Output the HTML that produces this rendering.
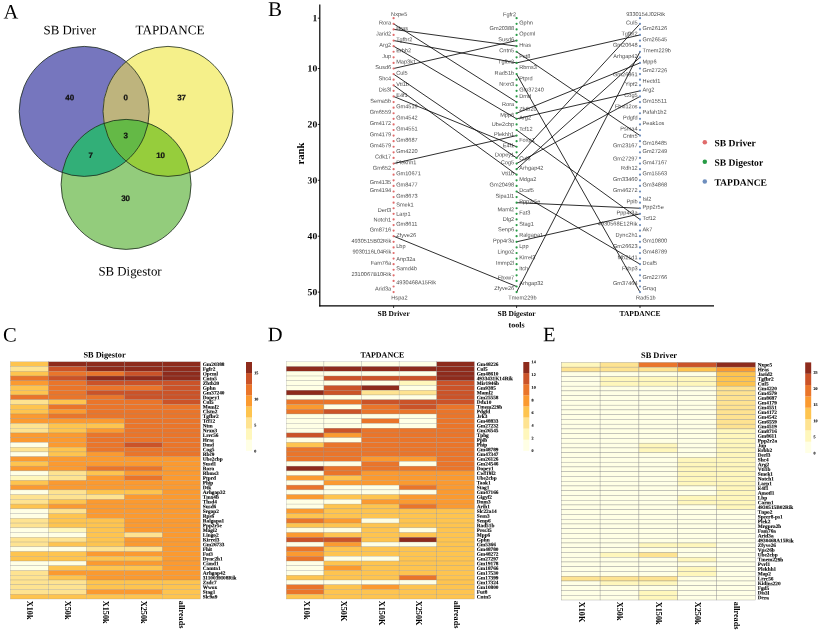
<!DOCTYPE html>
<html><head><meta charset="utf-8"><title>Figure</title>
<style>html,body{margin:0;padding:0;background:#fff}svg{display:block}</style></head>
<body>
<svg width="824" height="633" viewBox="0 0 824 633">
<rect width="824" height="633" fill="#fff"/>
<text transform="translate(3.50 18.50) rotate(0.05) scale(0.25)" font-size="82.0" text-anchor="start" font-weight="normal" font-family='"Liberation Serif", serif' fill="#000">A</text>
<text transform="translate(268.10 16.10) rotate(0.05) scale(0.25)" font-size="84.0" text-anchor="start" font-weight="normal" font-family='"Liberation Serif", serif' fill="#000">B</text>
<text transform="translate(2.90 341.40) rotate(0.05) scale(0.25)" font-size="82.0" text-anchor="start" font-weight="normal" font-family='"Liberation Serif", serif' fill="#000">C</text>
<text transform="translate(267.80 341.30) rotate(0.05) scale(0.25)" font-size="82.0" text-anchor="start" font-weight="normal" font-family='"Liberation Serif", serif' fill="#000">D</text>
<text transform="translate(543.00 341.20) rotate(0.05) scale(0.25)" font-size="82.0" text-anchor="start" font-weight="normal" font-family='"Liberation Serif", serif' fill="#000">E</text>
<defs><clipPath id="cb"><circle cx="84.2" cy="111.4" r="65"/></clipPath><clipPath id="cy"><circle cx="168" cy="111.4" r="65"/></clipPath><clipPath id="cg"><circle cx="126.1" cy="184.4" r="65"/></clipPath></defs>
<circle cx="84.2" cy="111.4" r="65" fill="#7676be"/>
<circle cx="168" cy="111.4" r="65" fill="#f5f08a"/>
<circle cx="126.1" cy="184.4" r="65" fill="#93cc7c"/>
<circle cx="168" cy="111.4" r="65" fill="#beb47d" clip-path="url(#cb)"/>
<circle cx="126.1" cy="184.4" r="65" fill="#32af78" clip-path="url(#cb)"/>
<circle cx="126.1" cy="184.4" r="65" fill="#96cd3c" clip-path="url(#cy)"/>
<g clip-path="url(#cb)"><circle cx="126.1" cy="184.4" r="65" fill="#64b946" clip-path="url(#cy)"/></g>
<g stroke="#1c2a1c" stroke-width="0.8" fill="none"><circle cx="84.2" cy="111.4" r="65"/><circle cx="168" cy="111.4" r="65"/><circle cx="126.1" cy="184.4" r="65"/></g>
<text transform="translate(69.80 34.30) rotate(0.05) scale(0.25)" font-size="51.6" text-anchor="middle" font-weight="normal" font-family='"Liberation Serif", serif' fill="#000">SB Driver</text>
<text transform="translate(170.00 34.20) rotate(0.05) scale(0.25)" font-size="52.4" text-anchor="middle" font-weight="normal" font-family='"Liberation Serif", serif' fill="#000">TAPDANCE</text>
<text transform="translate(130.00 275.60) rotate(0.05) scale(0.25)" font-size="51.4" text-anchor="middle" font-weight="normal" font-family='"Liberation Serif", serif' fill="#000">SB Digestor</text>
<text transform="translate(69.70 100.30) rotate(0.05) scale(0.25)" font-size="32.0" text-anchor="middle" font-weight="bold" font-family='"Liberation Sans", sans-serif' fill="#111" stroke="#111" stroke-width="0.88">40</text>
<text transform="translate(125.60 100.30) rotate(0.05) scale(0.25)" font-size="32.0" text-anchor="middle" font-weight="bold" font-family='"Liberation Sans", sans-serif' fill="#111" stroke="#111" stroke-width="0.88">0</text>
<text transform="translate(181.60 100.30) rotate(0.05) scale(0.25)" font-size="32.0" text-anchor="middle" font-weight="bold" font-family='"Liberation Sans", sans-serif' fill="#111" stroke="#111" stroke-width="0.88">37</text>
<text transform="translate(125.60 138.20) rotate(0.05) scale(0.25)" font-size="32.0" text-anchor="middle" font-weight="bold" font-family='"Liberation Sans", sans-serif' fill="#111" stroke="#111" stroke-width="0.88">3</text>
<text transform="translate(90.70 157.90) rotate(0.05) scale(0.25)" font-size="32.0" text-anchor="middle" font-weight="bold" font-family='"Liberation Sans", sans-serif' fill="#111" stroke="#111" stroke-width="0.88">7</text>
<text transform="translate(160.60 157.90) rotate(0.05) scale(0.25)" font-size="32.0" text-anchor="middle" font-weight="bold" font-family='"Liberation Sans", sans-serif' fill="#111" stroke="#111" stroke-width="0.88">10</text>
<text transform="translate(125.60 201.10) rotate(0.05) scale(0.25)" font-size="32.0" text-anchor="middle" font-weight="bold" font-family='"Liberation Sans", sans-serif' fill="#111" stroke="#111" stroke-width="0.88">30</text>
<line x1="319.8" y1="4.5" x2="319.8" y2="306.4" stroke="#000" stroke-width="1.2"/>
<line x1="319.2" y1="305.8" x2="714" y2="305.8" stroke="#000" stroke-width="1.2"/>
<line x1="317.8" y1="18.20" x2="319.8" y2="18.20" stroke="#000" stroke-width="0.8"/>
<text transform="translate(317.20 21.30) rotate(0.05) scale(0.25)" font-size="38.4" text-anchor="end" font-weight="bold" font-family='"Liberation Serif", serif' fill="#000">1</text>
<line x1="317.8" y1="68.51" x2="319.8" y2="68.51" stroke="#000" stroke-width="0.8"/>
<text transform="translate(317.20 71.61) rotate(0.05) scale(0.25)" font-size="38.4" text-anchor="end" font-weight="bold" font-family='"Liberation Serif", serif' fill="#000">10</text>
<line x1="317.8" y1="124.41" x2="319.8" y2="124.41" stroke="#000" stroke-width="0.8"/>
<text transform="translate(317.20 127.51) rotate(0.05) scale(0.25)" font-size="38.4" text-anchor="end" font-weight="bold" font-family='"Liberation Serif", serif' fill="#000">20</text>
<line x1="317.8" y1="180.31" x2="319.8" y2="180.31" stroke="#000" stroke-width="0.8"/>
<text transform="translate(317.20 183.41) rotate(0.05) scale(0.25)" font-size="38.4" text-anchor="end" font-weight="bold" font-family='"Liberation Serif", serif' fill="#000">30</text>
<line x1="317.8" y1="236.21" x2="319.8" y2="236.21" stroke="#000" stroke-width="0.8"/>
<text transform="translate(317.20 239.31) rotate(0.05) scale(0.25)" font-size="38.4" text-anchor="end" font-weight="bold" font-family='"Liberation Serif", serif' fill="#000">40</text>
<line x1="317.8" y1="292.11" x2="319.8" y2="292.11" stroke="#000" stroke-width="0.8"/>
<text transform="translate(317.20 295.21) rotate(0.05) scale(0.25)" font-size="38.4" text-anchor="end" font-weight="bold" font-family='"Liberation Serif", serif' fill="#000">50</text>
<line x1="393.6" y1="305.8" x2="393.6" y2="308" stroke="#000" stroke-width="0.8"/>
<line x1="516.6" y1="305.8" x2="516.6" y2="308" stroke="#000" stroke-width="0.8"/>
<line x1="640.0" y1="305.8" x2="640.0" y2="308" stroke="#000" stroke-width="0.8"/>
<text transform="translate(303.60 153.50) rotate(-90) scale(0.25)" font-size="42.4" text-anchor="middle" font-weight="bold" font-family='"Liberation Serif", serif' fill="#000">rank</text>
<text transform="translate(393.60 316.00) rotate(0.05) scale(0.25)" font-size="30.0" text-anchor="middle" font-weight="bold" font-family='"Liberation Serif", serif' fill="#000">SB Driver</text>
<text transform="translate(516.60 316.00) rotate(0.05) scale(0.25)" font-size="30.0" text-anchor="middle" font-weight="bold" font-family='"Liberation Serif", serif' fill="#000">SB Digestor</text>
<text transform="translate(640.00 316.00) rotate(0.05) scale(0.25)" font-size="30.0" text-anchor="middle" font-weight="bold" font-family='"Liberation Serif", serif' fill="#000">TAPDANCE</text>
<text transform="translate(516.60 327.50) rotate(0.05) scale(0.25)" font-size="32.0" text-anchor="middle" font-weight="bold" font-family='"Liberation Serif", serif' fill="#000">tools</text>
<text transform="translate(399.20 16.00) rotate(0.05) scale(0.25)" font-size="22.4" text-anchor="middle" font-weight="normal" font-family='"Liberation Sans", sans-serif' fill="#4d4d4d">Nxpe5</text>
<text transform="translate(391.20 24.39) rotate(0.05) scale(0.25)" font-size="22.4" text-anchor="end" font-weight="normal" font-family='"Liberation Sans", sans-serif' fill="#4d4d4d">Rora</text>
<text transform="translate(396.20 29.98) rotate(0.05) scale(0.25)" font-size="22.4" text-anchor="start" font-weight="normal" font-family='"Liberation Sans", sans-serif' fill="#4d4d4d">Hras</text>
<text transform="translate(391.20 35.57) rotate(0.05) scale(0.25)" font-size="22.4" text-anchor="end" font-weight="normal" font-family='"Liberation Sans", sans-serif' fill="#4d4d4d">Jarid2</text>
<text transform="translate(396.20 41.16) rotate(0.05) scale(0.25)" font-size="22.4" text-anchor="start" font-weight="normal" font-family='"Liberation Sans", sans-serif' fill="#4d4d4d">Tgfbr2</text>
<text transform="translate(391.20 46.75) rotate(0.05) scale(0.25)" font-size="22.4" text-anchor="end" font-weight="normal" font-family='"Liberation Sans", sans-serif' fill="#4d4d4d">Arg2</text>
<text transform="translate(396.20 52.34) rotate(0.05) scale(0.25)" font-size="22.4" text-anchor="start" font-weight="normal" font-family='"Liberation Sans", sans-serif' fill="#4d4d4d">Erbb2</text>
<text transform="translate(391.20 57.93) rotate(0.05) scale(0.25)" font-size="22.4" text-anchor="end" font-weight="normal" font-family='"Liberation Sans", sans-serif' fill="#4d4d4d">Jup</text>
<text transform="translate(396.20 63.52) rotate(0.05) scale(0.25)" font-size="22.4" text-anchor="start" font-weight="normal" font-family='"Liberation Sans", sans-serif' fill="#4d4d4d">Map3k1</text>
<text transform="translate(391.20 69.11) rotate(0.05) scale(0.25)" font-size="22.4" text-anchor="end" font-weight="normal" font-family='"Liberation Sans", sans-serif' fill="#4d4d4d">Susd6</text>
<text transform="translate(396.20 74.70) rotate(0.05) scale(0.25)" font-size="22.4" text-anchor="start" font-weight="normal" font-family='"Liberation Sans", sans-serif' fill="#4d4d4d">Cul5</text>
<text transform="translate(391.20 80.29) rotate(0.05) scale(0.25)" font-size="22.4" text-anchor="end" font-weight="normal" font-family='"Liberation Sans", sans-serif' fill="#4d4d4d">Shc4</text>
<text transform="translate(396.20 85.88) rotate(0.05) scale(0.25)" font-size="22.4" text-anchor="start" font-weight="normal" font-family='"Liberation Sans", sans-serif' fill="#4d4d4d">Vti1b</text>
<text transform="translate(391.20 91.47) rotate(0.05) scale(0.25)" font-size="22.4" text-anchor="end" font-weight="normal" font-family='"Liberation Sans", sans-serif' fill="#4d4d4d">Dis3l</text>
<text transform="translate(396.20 97.06) rotate(0.05) scale(0.25)" font-size="22.4" text-anchor="start" font-weight="normal" font-family='"Liberation Sans", sans-serif' fill="#4d4d4d">E4f1</text>
<text transform="translate(391.20 102.65) rotate(0.05) scale(0.25)" font-size="22.4" text-anchor="end" font-weight="normal" font-family='"Liberation Sans", sans-serif' fill="#4d4d4d">Sema5b</text>
<text transform="translate(396.20 108.24) rotate(0.05) scale(0.25)" font-size="22.4" text-anchor="start" font-weight="normal" font-family='"Liberation Sans", sans-serif' fill="#4d4d4d">Gm4519</text>
<text transform="translate(391.20 113.83) rotate(0.05) scale(0.25)" font-size="22.4" text-anchor="end" font-weight="normal" font-family='"Liberation Sans", sans-serif' fill="#4d4d4d">Gm6559</text>
<text transform="translate(396.20 119.42) rotate(0.05) scale(0.25)" font-size="22.4" text-anchor="start" font-weight="normal" font-family='"Liberation Sans", sans-serif' fill="#4d4d4d">Gm4542</text>
<text transform="translate(391.20 125.01) rotate(0.05) scale(0.25)" font-size="22.4" text-anchor="end" font-weight="normal" font-family='"Liberation Sans", sans-serif' fill="#4d4d4d">Gm4172</text>
<text transform="translate(396.20 130.60) rotate(0.05) scale(0.25)" font-size="22.4" text-anchor="start" font-weight="normal" font-family='"Liberation Sans", sans-serif' fill="#4d4d4d">Gm4551</text>
<text transform="translate(391.20 136.19) rotate(0.05) scale(0.25)" font-size="22.4" text-anchor="end" font-weight="normal" font-family='"Liberation Sans", sans-serif' fill="#4d4d4d">Gm4179</text>
<text transform="translate(396.20 141.78) rotate(0.05) scale(0.25)" font-size="22.4" text-anchor="start" font-weight="normal" font-family='"Liberation Sans", sans-serif' fill="#4d4d4d">Gm8687</text>
<text transform="translate(391.20 147.37) rotate(0.05) scale(0.25)" font-size="22.4" text-anchor="end" font-weight="normal" font-family='"Liberation Sans", sans-serif' fill="#4d4d4d">Gm4579</text>
<text transform="translate(396.20 152.96) rotate(0.05) scale(0.25)" font-size="22.4" text-anchor="start" font-weight="normal" font-family='"Liberation Sans", sans-serif' fill="#4d4d4d">Gm4220</text>
<text transform="translate(391.20 158.55) rotate(0.05) scale(0.25)" font-size="22.4" text-anchor="end" font-weight="normal" font-family='"Liberation Sans", sans-serif' fill="#4d4d4d">Cdk17</text>
<text transform="translate(396.20 164.14) rotate(0.05) scale(0.25)" font-size="22.4" text-anchor="start" font-weight="normal" font-family='"Liberation Sans", sans-serif' fill="#4d4d4d">Plekhh1</text>
<text transform="translate(391.20 169.73) rotate(0.05) scale(0.25)" font-size="22.4" text-anchor="end" font-weight="normal" font-family='"Liberation Sans", sans-serif' fill="#4d4d4d">Gm652</text>
<text transform="translate(396.20 175.32) rotate(0.05) scale(0.25)" font-size="22.4" text-anchor="start" font-weight="normal" font-family='"Liberation Sans", sans-serif' fill="#4d4d4d">Gm10671</text>
<text transform="translate(391.20 183.91) rotate(0.05) scale(0.25)" font-size="22.4" text-anchor="end" font-weight="normal" font-family='"Liberation Sans", sans-serif' fill="#4d4d4d">Gm4135</text>
<text transform="translate(396.20 186.50) rotate(0.05) scale(0.25)" font-size="22.4" text-anchor="start" font-weight="normal" font-family='"Liberation Sans", sans-serif' fill="#4d4d4d">Gm8477</text>
<text transform="translate(391.20 192.09) rotate(0.05) scale(0.25)" font-size="22.4" text-anchor="end" font-weight="normal" font-family='"Liberation Sans", sans-serif' fill="#4d4d4d">Gm4194</text>
<text transform="translate(396.20 197.68) rotate(0.05) scale(0.25)" font-size="22.4" text-anchor="start" font-weight="normal" font-family='"Liberation Sans", sans-serif' fill="#4d4d4d">Gm8673</text>
<text transform="translate(396.20 206.57) rotate(0.05) scale(0.25)" font-size="22.4" text-anchor="start" font-weight="normal" font-family='"Liberation Sans", sans-serif' fill="#4d4d4d">Smek1</text>
<text transform="translate(391.20 211.96) rotate(0.05) scale(0.25)" font-size="22.4" text-anchor="end" font-weight="normal" font-family='"Liberation Sans", sans-serif' fill="#4d4d4d">Derl3</text>
<text transform="translate(396.20 215.85) rotate(0.05) scale(0.25)" font-size="22.4" text-anchor="start" font-weight="normal" font-family='"Liberation Sans", sans-serif' fill="#4d4d4d">Larp1</text>
<text transform="translate(391.20 221.44) rotate(0.05) scale(0.25)" font-size="22.4" text-anchor="end" font-weight="normal" font-family='"Liberation Sans", sans-serif' fill="#4d4d4d">Notch1</text>
<text transform="translate(396.20 225.73) rotate(0.05) scale(0.25)" font-size="22.4" text-anchor="start" font-weight="normal" font-family='"Liberation Sans", sans-serif' fill="#4d4d4d">Gm8611</text>
<text transform="translate(391.20 231.52) rotate(0.05) scale(0.25)" font-size="22.4" text-anchor="end" font-weight="normal" font-family='"Liberation Sans", sans-serif' fill="#4d4d4d">Gm8716</text>
<text transform="translate(396.20 237.01) rotate(0.05) scale(0.25)" font-size="22.4" text-anchor="start" font-weight="normal" font-family='"Liberation Sans", sans-serif' fill="#4d4d4d">Zfyve26</text>
<text transform="translate(391.20 242.80) rotate(0.05) scale(0.25)" font-size="22.4" text-anchor="end" font-weight="normal" font-family='"Liberation Sans", sans-serif' fill="#4d4d4d">4930515B02Rik</text>
<text transform="translate(396.20 247.99) rotate(0.05) scale(0.25)" font-size="22.4" text-anchor="start" font-weight="normal" font-family='"Liberation Sans", sans-serif' fill="#4d4d4d">Lbp</text>
<text transform="translate(391.20 253.58) rotate(0.05) scale(0.25)" font-size="22.4" text-anchor="end" font-weight="normal" font-family='"Liberation Sans", sans-serif' fill="#4d4d4d">9030116L04Rik</text>
<text transform="translate(396.20 260.87) rotate(0.05) scale(0.25)" font-size="22.4" text-anchor="start" font-weight="normal" font-family='"Liberation Sans", sans-serif' fill="#4d4d4d">Anp32a</text>
<text transform="translate(391.20 264.76) rotate(0.05) scale(0.25)" font-size="22.4" text-anchor="end" font-weight="normal" font-family='"Liberation Sans", sans-serif' fill="#4d4d4d">Fam76a</text>
<text transform="translate(396.20 270.35) rotate(0.05) scale(0.25)" font-size="22.4" text-anchor="start" font-weight="normal" font-family='"Liberation Sans", sans-serif' fill="#4d4d4d">Samd4b</text>
<text transform="translate(391.20 275.94) rotate(0.05) scale(0.25)" font-size="22.4" text-anchor="end" font-weight="normal" font-family='"Liberation Sans", sans-serif' fill="#4d4d4d">2310067B10Rik</text>
<text transform="translate(396.20 284.33) rotate(0.05) scale(0.25)" font-size="22.4" text-anchor="start" font-weight="normal" font-family='"Liberation Sans", sans-serif' fill="#4d4d4d">4930468A15Rik</text>
<text transform="translate(391.20 290.42) rotate(0.05) scale(0.25)" font-size="22.4" text-anchor="end" font-weight="normal" font-family='"Liberation Sans", sans-serif' fill="#4d4d4d">Arid3a</text>
<text transform="translate(399.40 299.51) rotate(0.05) scale(0.25)" font-size="22.4" text-anchor="middle" font-weight="normal" font-family='"Liberation Sans", sans-serif' fill="#4d4d4d">Hspa2</text>
<text transform="translate(516.10 16.20) rotate(0.05) scale(0.25)" font-size="22.4" text-anchor="end" font-weight="normal" font-family='"Liberation Sans", sans-serif' fill="#4d4d4d">Fgfr2</text>
<text transform="translate(519.20 24.39) rotate(0.05) scale(0.25)" font-size="22.4" text-anchor="start" font-weight="normal" font-family='"Liberation Sans", sans-serif' fill="#4d4d4d">Gphn</text>
<text transform="translate(514.20 29.98) rotate(0.05) scale(0.25)" font-size="22.4" text-anchor="end" font-weight="normal" font-family='"Liberation Sans", sans-serif' fill="#4d4d4d">Gm20388</text>
<text transform="translate(519.20 35.57) rotate(0.05) scale(0.25)" font-size="22.4" text-anchor="start" font-weight="normal" font-family='"Liberation Sans", sans-serif' fill="#4d4d4d">Opcml</text>
<text transform="translate(514.20 41.16) rotate(0.05) scale(0.25)" font-size="22.4" text-anchor="end" font-weight="normal" font-family='"Liberation Sans", sans-serif' fill="#4d4d4d">Susd6</text>
<text transform="translate(519.20 46.75) rotate(0.05) scale(0.25)" font-size="22.4" text-anchor="start" font-weight="normal" font-family='"Liberation Sans", sans-serif' fill="#4d4d4d">Hras</text>
<text transform="translate(514.20 52.34) rotate(0.05) scale(0.25)" font-size="22.4" text-anchor="end" font-weight="normal" font-family='"Liberation Sans", sans-serif' fill="#4d4d4d">Cntn5</text>
<text transform="translate(519.20 57.93) rotate(0.05) scale(0.25)" font-size="22.4" text-anchor="start" font-weight="normal" font-family='"Liberation Sans", sans-serif' fill="#4d4d4d">Fut8</text>
<text transform="translate(514.20 63.52) rotate(0.05) scale(0.25)" font-size="22.4" text-anchor="end" font-weight="normal" font-family='"Liberation Sans", sans-serif' fill="#4d4d4d">Tgfbr2</text>
<text transform="translate(519.20 69.11) rotate(0.05) scale(0.25)" font-size="22.4" text-anchor="start" font-weight="normal" font-family='"Liberation Sans", sans-serif' fill="#4d4d4d">Rbms3</text>
<text transform="translate(514.20 74.70) rotate(0.05) scale(0.25)" font-size="22.4" text-anchor="end" font-weight="normal" font-family='"Liberation Sans", sans-serif' fill="#4d4d4d">Rad51b</text>
<text transform="translate(519.20 80.29) rotate(0.05) scale(0.25)" font-size="22.4" text-anchor="start" font-weight="normal" font-family='"Liberation Sans", sans-serif' fill="#4d4d4d">Ptprd</text>
<text transform="translate(514.20 85.88) rotate(0.05) scale(0.25)" font-size="22.4" text-anchor="end" font-weight="normal" font-family='"Liberation Sans", sans-serif' fill="#4d4d4d">Nrxn3</text>
<text transform="translate(519.20 91.47) rotate(0.05) scale(0.25)" font-size="22.4" text-anchor="start" font-weight="normal" font-family='"Liberation Sans", sans-serif' fill="#4d4d4d">Gm37240</text>
<text transform="translate(519.20 98.06) rotate(0.05) scale(0.25)" font-size="22.4" text-anchor="start" font-weight="normal" font-family='"Liberation Sans", sans-serif' fill="#4d4d4d">Dmd</text>
<text transform="translate(514.20 105.95) rotate(0.05) scale(0.25)" font-size="22.4" text-anchor="end" font-weight="normal" font-family='"Liberation Sans", sans-serif' fill="#4d4d4d">Rora</text>
<text transform="translate(519.20 110.84) rotate(0.05) scale(0.25)" font-size="22.4" text-anchor="start" font-weight="normal" font-family='"Liberation Sans", sans-serif' fill="#4d4d4d">Zbtb20</text>
<text transform="translate(514.20 116.83) rotate(0.05) scale(0.25)" font-size="22.4" text-anchor="end" font-weight="normal" font-family='"Liberation Sans", sans-serif' fill="#4d4d4d">Mpp6</text>
<text transform="translate(519.20 119.42) rotate(0.05) scale(0.25)" font-size="22.4" text-anchor="start" font-weight="normal" font-family='"Liberation Sans", sans-serif' fill="#4d4d4d">Arg2</text>
<text transform="translate(514.20 126.01) rotate(0.05) scale(0.25)" font-size="22.4" text-anchor="end" font-weight="normal" font-family='"Liberation Sans", sans-serif' fill="#4d4d4d">Ube2cbp</text>
<text transform="translate(519.20 130.80) rotate(0.05) scale(0.25)" font-size="22.4" text-anchor="start" font-weight="normal" font-family='"Liberation Sans", sans-serif' fill="#4d4d4d">Tcf12</text>
<text transform="translate(514.20 136.09) rotate(0.05) scale(0.25)" font-size="22.4" text-anchor="end" font-weight="normal" font-family='"Liberation Sans", sans-serif' fill="#4d4d4d">Plekhh1</text>
<text transform="translate(519.20 141.78) rotate(0.05) scale(0.25)" font-size="22.4" text-anchor="start" font-weight="normal" font-family='"Liberation Sans", sans-serif' fill="#4d4d4d">Foxp1</text>
<text transform="translate(514.20 147.27) rotate(0.05) scale(0.25)" font-size="22.4" text-anchor="end" font-weight="normal" font-family='"Liberation Sans", sans-serif' fill="#4d4d4d">E4f1</text>
<text transform="translate(514.20 156.56) rotate(0.05) scale(0.25)" font-size="22.4" text-anchor="end" font-weight="normal" font-family='"Liberation Sans", sans-serif' fill="#4d4d4d">Dopey1</text>
<text transform="translate(519.20 160.35) rotate(0.05) scale(0.25)" font-size="22.4" text-anchor="start" font-weight="normal" font-family='"Liberation Sans", sans-serif' fill="#4d4d4d">Cul5</text>
<text transform="translate(514.20 164.14) rotate(0.05) scale(0.25)" font-size="22.4" text-anchor="end" font-weight="normal" font-family='"Liberation Sans", sans-serif' fill="#4d4d4d">Cog5</text>
<text transform="translate(519.20 169.73) rotate(0.05) scale(0.25)" font-size="22.4" text-anchor="start" font-weight="normal" font-family='"Liberation Sans", sans-serif' fill="#4d4d4d">Arhgap42</text>
<text transform="translate(514.20 175.22) rotate(0.05) scale(0.25)" font-size="22.4" text-anchor="end" font-weight="normal" font-family='"Liberation Sans", sans-serif' fill="#4d4d4d">Vti1b</text>
<text transform="translate(519.20 180.91) rotate(0.05) scale(0.25)" font-size="22.4" text-anchor="start" font-weight="normal" font-family='"Liberation Sans", sans-serif' fill="#4d4d4d">Mdga2</text>
<text transform="translate(514.20 186.50) rotate(0.05) scale(0.25)" font-size="22.4" text-anchor="end" font-weight="normal" font-family='"Liberation Sans", sans-serif' fill="#4d4d4d">Gm20498</text>
<text transform="translate(519.20 192.09) rotate(0.05) scale(0.25)" font-size="22.4" text-anchor="start" font-weight="normal" font-family='"Liberation Sans", sans-serif' fill="#4d4d4d">Dcaf5</text>
<text transform="translate(514.20 197.68) rotate(0.05) scale(0.25)" font-size="22.4" text-anchor="end" font-weight="normal" font-family='"Liberation Sans", sans-serif' fill="#4d4d4d">Sipa1l1</text>
<text transform="translate(519.20 203.27) rotate(0.05) scale(0.25)" font-size="22.4" text-anchor="start" font-weight="normal" font-family='"Liberation Sans", sans-serif' fill="#4d4d4d">Ppp2r5e</text>
<text transform="translate(514.20 211.36) rotate(0.05) scale(0.25)" font-size="22.4" text-anchor="end" font-weight="normal" font-family='"Liberation Sans", sans-serif' fill="#4d4d4d">Maml2</text>
<text transform="translate(519.20 214.45) rotate(0.05) scale(0.25)" font-size="22.4" text-anchor="start" font-weight="normal" font-family='"Liberation Sans", sans-serif' fill="#4d4d4d">Fat3</text>
<text transform="translate(514.20 221.04) rotate(0.05) scale(0.25)" font-size="22.4" text-anchor="end" font-weight="normal" font-family='"Liberation Sans", sans-serif' fill="#4d4d4d">Dlg2</text>
<text transform="translate(519.20 225.63) rotate(0.05) scale(0.25)" font-size="22.4" text-anchor="start" font-weight="normal" font-family='"Liberation Sans", sans-serif' fill="#4d4d4d">Stag1</text>
<text transform="translate(514.20 231.22) rotate(0.05) scale(0.25)" font-size="22.4" text-anchor="end" font-weight="normal" font-family='"Liberation Sans", sans-serif' fill="#4d4d4d">Senp6</text>
<text transform="translate(519.20 236.81) rotate(0.05) scale(0.25)" font-size="22.4" text-anchor="start" font-weight="normal" font-family='"Liberation Sans", sans-serif' fill="#4d4d4d">Ralgapa1</text>
<text transform="translate(514.20 242.40) rotate(0.05) scale(0.25)" font-size="22.4" text-anchor="end" font-weight="normal" font-family='"Liberation Sans", sans-serif' fill="#4d4d4d">Ppp4r3a</text>
<text transform="translate(519.20 247.99) rotate(0.05) scale(0.25)" font-size="22.4" text-anchor="start" font-weight="normal" font-family='"Liberation Sans", sans-serif' fill="#4d4d4d">Lpp</text>
<text transform="translate(514.20 253.58) rotate(0.05) scale(0.25)" font-size="22.4" text-anchor="end" font-weight="normal" font-family='"Liberation Sans", sans-serif' fill="#4d4d4d">Lingo2</text>
<text transform="translate(519.20 259.17) rotate(0.05) scale(0.25)" font-size="22.4" text-anchor="start" font-weight="normal" font-family='"Liberation Sans", sans-serif' fill="#4d4d4d">Kirrel3</text>
<text transform="translate(514.20 264.76) rotate(0.05) scale(0.25)" font-size="22.4" text-anchor="end" font-weight="normal" font-family='"Liberation Sans", sans-serif' fill="#4d4d4d">Immp2l</text>
<text transform="translate(519.20 270.35) rotate(0.05) scale(0.25)" font-size="22.4" text-anchor="start" font-weight="normal" font-family='"Liberation Sans", sans-serif' fill="#4d4d4d">Itch</text>
<text transform="translate(514.20 279.44) rotate(0.05) scale(0.25)" font-size="22.4" text-anchor="end" font-weight="normal" font-family='"Liberation Sans", sans-serif' fill="#4d4d4d">Fbxw7</text>
<text transform="translate(519.20 285.03) rotate(0.05) scale(0.25)" font-size="22.4" text-anchor="start" font-weight="normal" font-family='"Liberation Sans", sans-serif' fill="#4d4d4d">Arhgap32</text>
<text transform="translate(514.20 290.12) rotate(0.05) scale(0.25)" font-size="22.4" text-anchor="end" font-weight="normal" font-family='"Liberation Sans", sans-serif' fill="#4d4d4d">Zfyve26</text>
<text transform="translate(522.40 299.51) rotate(0.05) scale(0.25)" font-size="22.4" text-anchor="middle" font-weight="normal" font-family='"Liberation Sans", sans-serif' fill="#4d4d4d">Tmem229b</text>
<text transform="translate(645.60 16.00) rotate(0.05) scale(0.25)" font-size="22.4" text-anchor="middle" font-weight="normal" font-family='"Liberation Sans", sans-serif' fill="#4d4d4d">9330154J02Rik</text>
<text transform="translate(637.60 24.39) rotate(0.05) scale(0.25)" font-size="22.4" text-anchor="end" font-weight="normal" font-family='"Liberation Sans", sans-serif' fill="#4d4d4d">Cul5</text>
<text transform="translate(642.60 29.98) rotate(0.05) scale(0.25)" font-size="22.4" text-anchor="start" font-weight="normal" font-family='"Liberation Sans", sans-serif' fill="#4d4d4d">Gm26126</text>
<text transform="translate(637.60 35.57) rotate(0.05) scale(0.25)" font-size="22.4" text-anchor="end" font-weight="normal" font-family='"Liberation Sans", sans-serif' fill="#4d4d4d">Tgfbr2</text>
<text transform="translate(642.60 41.16) rotate(0.05) scale(0.25)" font-size="22.4" text-anchor="start" font-weight="normal" font-family='"Liberation Sans", sans-serif' fill="#4d4d4d">Gm26545</text>
<text transform="translate(637.60 46.75) rotate(0.05) scale(0.25)" font-size="22.4" text-anchor="end" font-weight="normal" font-family='"Liberation Sans", sans-serif' fill="#4d4d4d">Gm20648</text>
<text transform="translate(642.60 52.34) rotate(0.05) scale(0.25)" font-size="22.4" text-anchor="start" font-weight="normal" font-family='"Liberation Sans", sans-serif' fill="#4d4d4d">Tmem229b</text>
<text transform="translate(637.60 57.93) rotate(0.05) scale(0.25)" font-size="22.4" text-anchor="end" font-weight="normal" font-family='"Liberation Sans", sans-serif' fill="#4d4d4d">Arhgap42</text>
<text transform="translate(642.60 63.52) rotate(0.05) scale(0.25)" font-size="22.4" text-anchor="start" font-weight="normal" font-family='"Liberation Sans", sans-serif' fill="#4d4d4d">Mpp6</text>
<text transform="translate(642.60 72.11) rotate(0.05) scale(0.25)" font-size="22.4" text-anchor="start" font-weight="normal" font-family='"Liberation Sans", sans-serif' fill="#4d4d4d">Gm27226</text>
<text transform="translate(637.60 76.20) rotate(0.05) scale(0.25)" font-size="22.4" text-anchor="end" font-weight="normal" font-family='"Liberation Sans", sans-serif' fill="#4d4d4d">Gm26861</text>
<text transform="translate(642.60 82.79) rotate(0.05) scale(0.25)" font-size="22.4" text-anchor="start" font-weight="normal" font-family='"Liberation Sans", sans-serif' fill="#4d4d4d">Hectd1</text>
<text transform="translate(637.60 85.88) rotate(0.05) scale(0.25)" font-size="22.4" text-anchor="end" font-weight="normal" font-family='"Liberation Sans", sans-serif' fill="#4d4d4d">Yipf2</text>
<text transform="translate(642.60 91.47) rotate(0.05) scale(0.25)" font-size="22.4" text-anchor="start" font-weight="normal" font-family='"Liberation Sans", sans-serif' fill="#4d4d4d">Arg2</text>
<text transform="translate(637.60 97.06) rotate(0.05) scale(0.25)" font-size="22.4" text-anchor="end" font-weight="normal" font-family='"Liberation Sans", sans-serif' fill="#4d4d4d">Cog5</text>
<text transform="translate(642.60 102.65) rotate(0.05) scale(0.25)" font-size="22.4" text-anchor="start" font-weight="normal" font-family='"Liberation Sans", sans-serif' fill="#4d4d4d">Gm15511</text>
<text transform="translate(637.60 108.24) rotate(0.05) scale(0.25)" font-size="22.4" text-anchor="end" font-weight="normal" font-family='"Liberation Sans", sans-serif' fill="#4d4d4d">Fbxl12os</text>
<text transform="translate(642.60 113.83) rotate(0.05) scale(0.25)" font-size="22.4" text-anchor="start" font-weight="normal" font-family='"Liberation Sans", sans-serif' fill="#4d4d4d">Pafah1b2</text>
<text transform="translate(637.60 119.42) rotate(0.05) scale(0.25)" font-size="22.4" text-anchor="end" font-weight="normal" font-family='"Liberation Sans", sans-serif' fill="#4d4d4d">Pdgfd</text>
<text transform="translate(642.60 125.01) rotate(0.05) scale(0.25)" font-size="22.4" text-anchor="start" font-weight="normal" font-family='"Liberation Sans", sans-serif' fill="#4d4d4d">Peak1os</text>
<text transform="translate(637.60 130.60) rotate(0.05) scale(0.25)" font-size="22.4" text-anchor="end" font-weight="normal" font-family='"Liberation Sans", sans-serif' fill="#4d4d4d">Psma4</text>
<text transform="translate(637.60 137.69) rotate(0.05) scale(0.25)" font-size="22.4" text-anchor="end" font-weight="normal" font-family='"Liberation Sans", sans-serif' fill="#4d4d4d">Cntn5</text>
<text transform="translate(642.60 144.78) rotate(0.05) scale(0.25)" font-size="22.4" text-anchor="start" font-weight="normal" font-family='"Liberation Sans", sans-serif' fill="#4d4d4d">Gm16485</text>
<text transform="translate(637.60 147.37) rotate(0.05) scale(0.25)" font-size="22.4" text-anchor="end" font-weight="normal" font-family='"Liberation Sans", sans-serif' fill="#4d4d4d">Gm23167</text>
<text transform="translate(642.60 152.96) rotate(0.05) scale(0.25)" font-size="22.4" text-anchor="start" font-weight="normal" font-family='"Liberation Sans", sans-serif' fill="#4d4d4d">Gm27249</text>
<text transform="translate(637.60 160.55) rotate(0.05) scale(0.25)" font-size="22.4" text-anchor="end" font-weight="normal" font-family='"Liberation Sans", sans-serif' fill="#4d4d4d">Gm27297</text>
<text transform="translate(642.60 164.14) rotate(0.05) scale(0.25)" font-size="22.4" text-anchor="start" font-weight="normal" font-family='"Liberation Sans", sans-serif' fill="#4d4d4d">Gm47167</text>
<text transform="translate(637.60 169.73) rotate(0.05) scale(0.25)" font-size="22.4" text-anchor="end" font-weight="normal" font-family='"Liberation Sans", sans-serif' fill="#4d4d4d">Rdh12</text>
<text transform="translate(642.60 175.32) rotate(0.05) scale(0.25)" font-size="22.4" text-anchor="start" font-weight="normal" font-family='"Liberation Sans", sans-serif' fill="#4d4d4d">Gm15563</text>
<text transform="translate(637.60 180.91) rotate(0.05) scale(0.25)" font-size="22.4" text-anchor="end" font-weight="normal" font-family='"Liberation Sans", sans-serif' fill="#4d4d4d">Gm33460</text>
<text transform="translate(642.60 186.50) rotate(0.05) scale(0.25)" font-size="22.4" text-anchor="start" font-weight="normal" font-family='"Liberation Sans", sans-serif' fill="#4d4d4d">Gm34868</text>
<text transform="translate(637.60 192.09) rotate(0.05) scale(0.25)" font-size="22.4" text-anchor="end" font-weight="normal" font-family='"Liberation Sans", sans-serif' fill="#4d4d4d">Gm46272</text>
<text transform="translate(642.60 200.68) rotate(0.05) scale(0.25)" font-size="22.4" text-anchor="start" font-weight="normal" font-family='"Liberation Sans", sans-serif' fill="#4d4d4d">Isl2</text>
<text transform="translate(637.60 203.27) rotate(0.05) scale(0.25)" font-size="22.4" text-anchor="end" font-weight="normal" font-family='"Liberation Sans", sans-serif' fill="#4d4d4d">Ppib</text>
<text transform="translate(642.60 208.86) rotate(0.05) scale(0.25)" font-size="22.4" text-anchor="start" font-weight="normal" font-family='"Liberation Sans", sans-serif' fill="#4d4d4d">Ppp2r5e</text>
<text transform="translate(637.60 214.45) rotate(0.05) scale(0.25)" font-size="22.4" text-anchor="end" font-weight="normal" font-family='"Liberation Sans", sans-serif' fill="#4d4d4d">Ppp4r3a</text>
<text transform="translate(642.60 220.04) rotate(0.05) scale(0.25)" font-size="22.4" text-anchor="start" font-weight="normal" font-family='"Liberation Sans", sans-serif' fill="#4d4d4d">Tcf12</text>
<text transform="translate(637.60 225.63) rotate(0.05) scale(0.25)" font-size="22.4" text-anchor="end" font-weight="normal" font-family='"Liberation Sans", sans-serif' fill="#4d4d4d">4930568E12Rik</text>
<text transform="translate(642.60 231.22) rotate(0.05) scale(0.25)" font-size="22.4" text-anchor="start" font-weight="normal" font-family='"Liberation Sans", sans-serif' fill="#4d4d4d">Ak7</text>
<text transform="translate(637.60 236.81) rotate(0.05) scale(0.25)" font-size="22.4" text-anchor="end" font-weight="normal" font-family='"Liberation Sans", sans-serif' fill="#4d4d4d">Dync2h1</text>
<text transform="translate(642.60 242.40) rotate(0.05) scale(0.25)" font-size="22.4" text-anchor="start" font-weight="normal" font-family='"Liberation Sans", sans-serif' fill="#4d4d4d">Gm10800</text>
<text transform="translate(637.60 247.99) rotate(0.05) scale(0.25)" font-size="22.4" text-anchor="end" font-weight="normal" font-family='"Liberation Sans", sans-serif' fill="#4d4d4d">Gm26623</text>
<text transform="translate(642.60 253.58) rotate(0.05) scale(0.25)" font-size="22.4" text-anchor="start" font-weight="normal" font-family='"Liberation Sans", sans-serif' fill="#4d4d4d">Gm48789</text>
<text transform="translate(637.60 259.17) rotate(0.05) scale(0.25)" font-size="22.4" text-anchor="end" font-weight="normal" font-family='"Liberation Sans", sans-serif' fill="#4d4d4d">Mb21d1</text>
<text transform="translate(642.60 264.76) rotate(0.05) scale(0.25)" font-size="22.4" text-anchor="start" font-weight="normal" font-family='"Liberation Sans", sans-serif' fill="#4d4d4d">Dcaf5</text>
<text transform="translate(637.60 270.35) rotate(0.05) scale(0.25)" font-size="22.4" text-anchor="end" font-weight="normal" font-family='"Liberation Sans", sans-serif' fill="#4d4d4d">Fkbp3</text>
<text transform="translate(642.60 278.94) rotate(0.05) scale(0.25)" font-size="22.4" text-anchor="start" font-weight="normal" font-family='"Liberation Sans", sans-serif' fill="#4d4d4d">Gm22766</text>
<text transform="translate(637.60 285.03) rotate(0.05) scale(0.25)" font-size="22.4" text-anchor="end" font-weight="normal" font-family='"Liberation Sans", sans-serif' fill="#4d4d4d">Gm37464</text>
<text transform="translate(642.60 290.12) rotate(0.05) scale(0.25)" font-size="22.4" text-anchor="start" font-weight="normal" font-family='"Liberation Sans", sans-serif' fill="#4d4d4d">Gnaq</text>
<text transform="translate(645.80 299.51) rotate(0.05) scale(0.25)" font-size="22.4" text-anchor="middle" font-weight="normal" font-family='"Liberation Sans", sans-serif' fill="#4d4d4d">Rad51b</text>
<g stroke="#0a0a0a" stroke-width="0.85" fill="none">
<line x1="393.6" y1="23.79" x2="516.6" y2="102.05"/>
<line x1="393.6" y1="29.38" x2="516.6" y2="46.15"/>
<line x1="393.6" y1="40.56" x2="516.6" y2="62.92"/>
<line x1="393.6" y1="46.15" x2="516.6" y2="118.82"/>
<line x1="393.6" y1="68.51" x2="516.6" y2="40.56"/>
<line x1="393.6" y1="74.10" x2="516.6" y2="157.95"/>
<line x1="393.6" y1="85.28" x2="516.6" y2="174.72"/>
<line x1="393.6" y1="96.46" x2="516.6" y2="146.77"/>
<line x1="393.6" y1="163.54" x2="516.6" y2="135.59"/>
<line x1="393.6" y1="236.21" x2="516.6" y2="286.52"/>
<line x1="516.6" y1="51.74" x2="640.0" y2="135.59"/>
<line x1="516.6" y1="62.92" x2="640.0" y2="34.97"/>
<line x1="516.6" y1="74.10" x2="640.0" y2="292.11"/>
<line x1="516.6" y1="113.23" x2="640.0" y2="62.92"/>
<line x1="516.6" y1="118.82" x2="640.0" y2="90.87"/>
<line x1="516.6" y1="130.00" x2="640.0" y2="219.44"/>
<line x1="516.6" y1="157.95" x2="640.0" y2="23.79"/>
<line x1="516.6" y1="163.54" x2="640.0" y2="96.46"/>
<line x1="516.6" y1="169.13" x2="640.0" y2="57.33"/>
<line x1="516.6" y1="191.49" x2="640.0" y2="264.16"/>
<line x1="516.6" y1="202.67" x2="640.0" y2="208.26"/>
<line x1="516.6" y1="241.80" x2="640.0" y2="213.85"/>
<line x1="516.6" y1="292.11" x2="640.0" y2="51.74"/>
</g>
<g fill="#E06B6B">
<circle cx="393.6" cy="18.20" r="1.1"/>
<circle cx="393.6" cy="23.79" r="1.1"/>
<circle cx="393.6" cy="29.38" r="1.1"/>
<circle cx="393.6" cy="34.97" r="1.1"/>
<circle cx="393.6" cy="40.56" r="1.1"/>
<circle cx="393.6" cy="46.15" r="1.1"/>
<circle cx="393.6" cy="51.74" r="1.1"/>
<circle cx="393.6" cy="57.33" r="1.1"/>
<circle cx="393.6" cy="62.92" r="1.1"/>
<circle cx="393.6" cy="68.51" r="1.1"/>
<circle cx="393.6" cy="74.10" r="1.1"/>
<circle cx="393.6" cy="79.69" r="1.1"/>
<circle cx="393.6" cy="85.28" r="1.1"/>
<circle cx="393.6" cy="90.87" r="1.1"/>
<circle cx="393.6" cy="96.46" r="1.1"/>
<circle cx="393.6" cy="102.05" r="1.1"/>
<circle cx="393.6" cy="107.64" r="1.1"/>
<circle cx="393.6" cy="113.23" r="1.1"/>
<circle cx="393.6" cy="118.82" r="1.1"/>
<circle cx="393.6" cy="124.41" r="1.1"/>
<circle cx="393.6" cy="130.00" r="1.1"/>
<circle cx="393.6" cy="135.59" r="1.1"/>
<circle cx="393.6" cy="141.18" r="1.1"/>
<circle cx="393.6" cy="146.77" r="1.1"/>
<circle cx="393.6" cy="152.36" r="1.1"/>
<circle cx="393.6" cy="157.95" r="1.1"/>
<circle cx="393.6" cy="163.54" r="1.1"/>
<circle cx="393.6" cy="169.13" r="1.1"/>
<circle cx="393.6" cy="174.72" r="1.1"/>
<circle cx="393.6" cy="180.31" r="1.1"/>
<circle cx="393.6" cy="185.90" r="1.1"/>
<circle cx="393.6" cy="191.49" r="1.1"/>
<circle cx="393.6" cy="197.08" r="1.1"/>
<circle cx="393.6" cy="202.67" r="1.1"/>
<circle cx="393.6" cy="208.26" r="1.1"/>
<circle cx="393.6" cy="213.85" r="1.1"/>
<circle cx="393.6" cy="219.44" r="1.1"/>
<circle cx="393.6" cy="225.03" r="1.1"/>
<circle cx="393.6" cy="230.62" r="1.1"/>
<circle cx="393.6" cy="236.21" r="1.1"/>
<circle cx="393.6" cy="241.80" r="1.1"/>
<circle cx="393.6" cy="247.39" r="1.1"/>
<circle cx="393.6" cy="252.98" r="1.1"/>
<circle cx="393.6" cy="258.57" r="1.1"/>
<circle cx="393.6" cy="264.16" r="1.1"/>
<circle cx="393.6" cy="269.75" r="1.1"/>
<circle cx="393.6" cy="275.34" r="1.1"/>
<circle cx="393.6" cy="280.93" r="1.1"/>
<circle cx="393.6" cy="286.52" r="1.1"/>
<circle cx="393.6" cy="292.11" r="1.1"/>
</g>
<g fill="#279B45">
<circle cx="516.6" cy="18.20" r="1.1"/>
<circle cx="516.6" cy="23.79" r="1.1"/>
<circle cx="516.6" cy="29.38" r="1.1"/>
<circle cx="516.6" cy="34.97" r="1.1"/>
<circle cx="516.6" cy="40.56" r="1.1"/>
<circle cx="516.6" cy="46.15" r="1.1"/>
<circle cx="516.6" cy="51.74" r="1.1"/>
<circle cx="516.6" cy="57.33" r="1.1"/>
<circle cx="516.6" cy="62.92" r="1.1"/>
<circle cx="516.6" cy="68.51" r="1.1"/>
<circle cx="516.6" cy="74.10" r="1.1"/>
<circle cx="516.6" cy="79.69" r="1.1"/>
<circle cx="516.6" cy="85.28" r="1.1"/>
<circle cx="516.6" cy="90.87" r="1.1"/>
<circle cx="516.6" cy="96.46" r="1.1"/>
<circle cx="516.6" cy="102.05" r="1.1"/>
<circle cx="516.6" cy="107.64" r="1.1"/>
<circle cx="516.6" cy="113.23" r="1.1"/>
<circle cx="516.6" cy="118.82" r="1.1"/>
<circle cx="516.6" cy="124.41" r="1.1"/>
<circle cx="516.6" cy="130.00" r="1.1"/>
<circle cx="516.6" cy="135.59" r="1.1"/>
<circle cx="516.6" cy="141.18" r="1.1"/>
<circle cx="516.6" cy="146.77" r="1.1"/>
<circle cx="516.6" cy="152.36" r="1.1"/>
<circle cx="516.6" cy="157.95" r="1.1"/>
<circle cx="516.6" cy="163.54" r="1.1"/>
<circle cx="516.6" cy="169.13" r="1.1"/>
<circle cx="516.6" cy="174.72" r="1.1"/>
<circle cx="516.6" cy="180.31" r="1.1"/>
<circle cx="516.6" cy="185.90" r="1.1"/>
<circle cx="516.6" cy="191.49" r="1.1"/>
<circle cx="516.6" cy="197.08" r="1.1"/>
<circle cx="516.6" cy="202.67" r="1.1"/>
<circle cx="516.6" cy="208.26" r="1.1"/>
<circle cx="516.6" cy="213.85" r="1.1"/>
<circle cx="516.6" cy="219.44" r="1.1"/>
<circle cx="516.6" cy="225.03" r="1.1"/>
<circle cx="516.6" cy="230.62" r="1.1"/>
<circle cx="516.6" cy="236.21" r="1.1"/>
<circle cx="516.6" cy="241.80" r="1.1"/>
<circle cx="516.6" cy="247.39" r="1.1"/>
<circle cx="516.6" cy="252.98" r="1.1"/>
<circle cx="516.6" cy="258.57" r="1.1"/>
<circle cx="516.6" cy="264.16" r="1.1"/>
<circle cx="516.6" cy="269.75" r="1.1"/>
<circle cx="516.6" cy="275.34" r="1.1"/>
<circle cx="516.6" cy="280.93" r="1.1"/>
<circle cx="516.6" cy="286.52" r="1.1"/>
<circle cx="516.6" cy="292.11" r="1.1"/>
</g>
<g fill="#6E8EBD">
<circle cx="640.0" cy="18.20" r="1.1"/>
<circle cx="640.0" cy="23.79" r="1.1"/>
<circle cx="640.0" cy="29.38" r="1.1"/>
<circle cx="640.0" cy="34.97" r="1.1"/>
<circle cx="640.0" cy="40.56" r="1.1"/>
<circle cx="640.0" cy="46.15" r="1.1"/>
<circle cx="640.0" cy="51.74" r="1.1"/>
<circle cx="640.0" cy="57.33" r="1.1"/>
<circle cx="640.0" cy="62.92" r="1.1"/>
<circle cx="640.0" cy="68.51" r="1.1"/>
<circle cx="640.0" cy="74.10" r="1.1"/>
<circle cx="640.0" cy="79.69" r="1.1"/>
<circle cx="640.0" cy="85.28" r="1.1"/>
<circle cx="640.0" cy="90.87" r="1.1"/>
<circle cx="640.0" cy="96.46" r="1.1"/>
<circle cx="640.0" cy="102.05" r="1.1"/>
<circle cx="640.0" cy="107.64" r="1.1"/>
<circle cx="640.0" cy="113.23" r="1.1"/>
<circle cx="640.0" cy="118.82" r="1.1"/>
<circle cx="640.0" cy="124.41" r="1.1"/>
<circle cx="640.0" cy="130.00" r="1.1"/>
<circle cx="640.0" cy="135.59" r="1.1"/>
<circle cx="640.0" cy="141.18" r="1.1"/>
<circle cx="640.0" cy="146.77" r="1.1"/>
<circle cx="640.0" cy="152.36" r="1.1"/>
<circle cx="640.0" cy="157.95" r="1.1"/>
<circle cx="640.0" cy="163.54" r="1.1"/>
<circle cx="640.0" cy="169.13" r="1.1"/>
<circle cx="640.0" cy="174.72" r="1.1"/>
<circle cx="640.0" cy="180.31" r="1.1"/>
<circle cx="640.0" cy="185.90" r="1.1"/>
<circle cx="640.0" cy="191.49" r="1.1"/>
<circle cx="640.0" cy="197.08" r="1.1"/>
<circle cx="640.0" cy="202.67" r="1.1"/>
<circle cx="640.0" cy="208.26" r="1.1"/>
<circle cx="640.0" cy="213.85" r="1.1"/>
<circle cx="640.0" cy="219.44" r="1.1"/>
<circle cx="640.0" cy="225.03" r="1.1"/>
<circle cx="640.0" cy="230.62" r="1.1"/>
<circle cx="640.0" cy="236.21" r="1.1"/>
<circle cx="640.0" cy="241.80" r="1.1"/>
<circle cx="640.0" cy="247.39" r="1.1"/>
<circle cx="640.0" cy="252.98" r="1.1"/>
<circle cx="640.0" cy="258.57" r="1.1"/>
<circle cx="640.0" cy="264.16" r="1.1"/>
<circle cx="640.0" cy="269.75" r="1.1"/>
<circle cx="640.0" cy="275.34" r="1.1"/>
<circle cx="640.0" cy="280.93" r="1.1"/>
<circle cx="640.0" cy="286.52" r="1.1"/>
<circle cx="640.0" cy="292.11" r="1.1"/>
</g>
<circle cx="704.8" cy="142.2" r="2.25" fill="#E06B6B"/>
<text transform="translate(714.40 146.20) rotate(0.05) scale(0.25)" font-size="38.4" text-anchor="start" font-weight="bold" font-family='"Liberation Serif", serif' fill="#000">SB Driver</text>
<circle cx="704.8" cy="161.8" r="2.25" fill="#279B45"/>
<text transform="translate(714.40 165.80) rotate(0.05) scale(0.25)" font-size="38.4" text-anchor="start" font-weight="bold" font-family='"Liberation Serif", serif' fill="#000">SB Digestor</text>
<circle cx="704.8" cy="181.6" r="2.25" fill="#6E8EBD"/>
<text transform="translate(714.40 185.60) rotate(0.05) scale(0.25)" font-size="38.4" text-anchor="start" font-weight="bold" font-family='"Liberation Serif", serif' fill="#000">TAPDANCE</text>
<g stroke="#8f8f8f" stroke-opacity="0.6" stroke-width="0.4">
<rect x="10.40" y="361.80" width="38.00" height="4.74" fill="#FEC44F"/>
<rect x="48.40" y="361.80" width="38.00" height="4.74" fill="#8E2B1C"/>
<rect x="86.40" y="361.80" width="38.00" height="4.74" fill="#8E2B1C"/>
<rect x="124.40" y="361.80" width="38.00" height="4.74" fill="#8E2B1C"/>
<rect x="162.40" y="361.80" width="38.00" height="4.74" fill="#8E2B1C"/>
<rect x="10.40" y="366.54" width="38.00" height="4.74" fill="#FEE391"/>
<rect x="48.40" y="366.54" width="38.00" height="4.74" fill="#CB5328"/>
<rect x="86.40" y="366.54" width="38.00" height="4.74" fill="#8E2B1C"/>
<rect x="124.40" y="366.54" width="38.00" height="4.74" fill="#8E2B1C"/>
<rect x="162.40" y="366.54" width="38.00" height="4.74" fill="#8E2B1C"/>
<rect x="10.40" y="371.29" width="38.00" height="4.74" fill="#FEC44F"/>
<rect x="48.40" y="371.29" width="38.00" height="4.74" fill="#EA752A"/>
<rect x="86.40" y="371.29" width="38.00" height="4.74" fill="#EA752A"/>
<rect x="124.40" y="371.29" width="38.00" height="4.74" fill="#CB5328"/>
<rect x="162.40" y="371.29" width="38.00" height="4.74" fill="#8E2B1C"/>
<rect x="10.40" y="376.03" width="38.00" height="4.74" fill="#EA752A"/>
<rect x="48.40" y="376.03" width="38.00" height="4.74" fill="#CB5328"/>
<rect x="86.40" y="376.03" width="38.00" height="4.74" fill="#8E2B1C"/>
<rect x="124.40" y="376.03" width="38.00" height="4.74" fill="#8E2B1C"/>
<rect x="162.40" y="376.03" width="38.00" height="4.74" fill="#8E2B1C"/>
<rect x="10.40" y="380.78" width="38.00" height="4.74" fill="#FB9A30"/>
<rect x="48.40" y="380.78" width="38.00" height="4.74" fill="#EA752A"/>
<rect x="86.40" y="380.78" width="38.00" height="4.74" fill="#CB5328"/>
<rect x="124.40" y="380.78" width="38.00" height="4.74" fill="#CB5328"/>
<rect x="162.40" y="380.78" width="38.00" height="4.74" fill="#CB5328"/>
<rect x="10.40" y="385.52" width="38.00" height="4.74" fill="#FEC44F"/>
<rect x="48.40" y="385.52" width="38.00" height="4.74" fill="#EA752A"/>
<rect x="86.40" y="385.52" width="38.00" height="4.74" fill="#EA752A"/>
<rect x="124.40" y="385.52" width="38.00" height="4.74" fill="#EA752A"/>
<rect x="162.40" y="385.52" width="38.00" height="4.74" fill="#CB5328"/>
<rect x="10.40" y="390.26" width="38.00" height="4.74" fill="#FEC44F"/>
<rect x="48.40" y="390.26" width="38.00" height="4.74" fill="#EA752A"/>
<rect x="86.40" y="390.26" width="38.00" height="4.74" fill="#CB5328"/>
<rect x="124.40" y="390.26" width="38.00" height="4.74" fill="#CB5328"/>
<rect x="162.40" y="390.26" width="38.00" height="4.74" fill="#CB5328"/>
<rect x="10.40" y="395.01" width="38.00" height="4.74" fill="#EA752A"/>
<rect x="48.40" y="395.01" width="38.00" height="4.74" fill="#EA752A"/>
<rect x="86.40" y="395.01" width="38.00" height="4.74" fill="#EA752A"/>
<rect x="124.40" y="395.01" width="38.00" height="4.74" fill="#CB5328"/>
<rect x="162.40" y="395.01" width="38.00" height="4.74" fill="#CB5328"/>
<rect x="10.40" y="399.75" width="38.00" height="4.74" fill="#FEE391"/>
<rect x="48.40" y="399.75" width="38.00" height="4.74" fill="#FEC44F"/>
<rect x="86.40" y="399.75" width="38.00" height="4.74" fill="#EA752A"/>
<rect x="124.40" y="399.75" width="38.00" height="4.74" fill="#EA752A"/>
<rect x="162.40" y="399.75" width="38.00" height="4.74" fill="#CB5328"/>
<rect x="10.40" y="404.50" width="38.00" height="4.74" fill="#FEC44F"/>
<rect x="48.40" y="404.50" width="38.00" height="4.74" fill="#EA752A"/>
<rect x="86.40" y="404.50" width="38.00" height="4.74" fill="#EA752A"/>
<rect x="124.40" y="404.50" width="38.00" height="4.74" fill="#EA752A"/>
<rect x="162.40" y="404.50" width="38.00" height="4.74" fill="#EA752A"/>
<rect x="10.40" y="409.24" width="38.00" height="4.74" fill="#FEC44F"/>
<rect x="48.40" y="409.24" width="38.00" height="4.74" fill="#FB9A30"/>
<rect x="86.40" y="409.24" width="38.00" height="4.74" fill="#EA752A"/>
<rect x="124.40" y="409.24" width="38.00" height="4.74" fill="#EA752A"/>
<rect x="162.40" y="409.24" width="38.00" height="4.74" fill="#EA752A"/>
<rect x="10.40" y="413.98" width="38.00" height="4.74" fill="#FB9A30"/>
<rect x="48.40" y="413.98" width="38.00" height="4.74" fill="#EA752A"/>
<rect x="86.40" y="413.98" width="38.00" height="4.74" fill="#EA752A"/>
<rect x="124.40" y="413.98" width="38.00" height="4.74" fill="#EA752A"/>
<rect x="162.40" y="413.98" width="38.00" height="4.74" fill="#EA752A"/>
<rect x="10.40" y="418.73" width="38.00" height="4.74" fill="#FB9A30"/>
<rect x="48.40" y="418.73" width="38.00" height="4.74" fill="#FB9A30"/>
<rect x="86.40" y="418.73" width="38.00" height="4.74" fill="#FB9A30"/>
<rect x="124.40" y="418.73" width="38.00" height="4.74" fill="#EA752A"/>
<rect x="162.40" y="418.73" width="38.00" height="4.74" fill="#EA752A"/>
<rect x="10.40" y="423.47" width="38.00" height="4.74" fill="#FEE391"/>
<rect x="48.40" y="423.47" width="38.00" height="4.74" fill="#FEC44F"/>
<rect x="86.40" y="423.47" width="38.00" height="4.74" fill="#FEC44F"/>
<rect x="124.40" y="423.47" width="38.00" height="4.74" fill="#EA752A"/>
<rect x="162.40" y="423.47" width="38.00" height="4.74" fill="#EA752A"/>
<rect x="10.40" y="428.22" width="38.00" height="4.74" fill="#FEE391"/>
<rect x="48.40" y="428.22" width="38.00" height="4.74" fill="#FEC44F"/>
<rect x="86.40" y="428.22" width="38.00" height="4.74" fill="#FB9A30"/>
<rect x="124.40" y="428.22" width="38.00" height="4.74" fill="#EA752A"/>
<rect x="162.40" y="428.22" width="38.00" height="4.74" fill="#EA752A"/>
<rect x="10.40" y="432.96" width="38.00" height="4.74" fill="#FB9A30"/>
<rect x="48.40" y="432.96" width="38.00" height="4.74" fill="#FB9A30"/>
<rect x="86.40" y="432.96" width="38.00" height="4.74" fill="#EA752A"/>
<rect x="124.40" y="432.96" width="38.00" height="4.74" fill="#EA752A"/>
<rect x="162.40" y="432.96" width="38.00" height="4.74" fill="#EA752A"/>
<rect x="10.40" y="437.70" width="38.00" height="4.74" fill="#FB9A30"/>
<rect x="48.40" y="437.70" width="38.00" height="4.74" fill="#FB9A30"/>
<rect x="86.40" y="437.70" width="38.00" height="4.74" fill="#EA752A"/>
<rect x="124.40" y="437.70" width="38.00" height="4.74" fill="#EA752A"/>
<rect x="162.40" y="437.70" width="38.00" height="4.74" fill="#EA752A"/>
<rect x="10.40" y="442.45" width="38.00" height="4.74" fill="#FFFFE5"/>
<rect x="48.40" y="442.45" width="38.00" height="4.74" fill="#FB9A30"/>
<rect x="86.40" y="442.45" width="38.00" height="4.74" fill="#EA752A"/>
<rect x="124.40" y="442.45" width="38.00" height="4.74" fill="#CB5328"/>
<rect x="162.40" y="442.45" width="38.00" height="4.74" fill="#EA752A"/>
<rect x="10.40" y="447.19" width="38.00" height="4.74" fill="#FEE391"/>
<rect x="48.40" y="447.19" width="38.00" height="4.74" fill="#FEC44F"/>
<rect x="86.40" y="447.19" width="38.00" height="4.74" fill="#EA752A"/>
<rect x="124.40" y="447.19" width="38.00" height="4.74" fill="#EA752A"/>
<rect x="162.40" y="447.19" width="38.00" height="4.74" fill="#EA752A"/>
<rect x="10.40" y="451.94" width="38.00" height="4.74" fill="#FFFFE5"/>
<rect x="48.40" y="451.94" width="38.00" height="4.74" fill="#FEC44F"/>
<rect x="86.40" y="451.94" width="38.00" height="4.74" fill="#FB9A30"/>
<rect x="124.40" y="451.94" width="38.00" height="4.74" fill="#EA752A"/>
<rect x="162.40" y="451.94" width="38.00" height="4.74" fill="#EA752A"/>
<rect x="10.40" y="456.68" width="38.00" height="4.74" fill="#FB9A30"/>
<rect x="48.40" y="456.68" width="38.00" height="4.74" fill="#FB9A30"/>
<rect x="86.40" y="456.68" width="38.00" height="4.74" fill="#FB9A30"/>
<rect x="124.40" y="456.68" width="38.00" height="4.74" fill="#FB9A30"/>
<rect x="162.40" y="456.68" width="38.00" height="4.74" fill="#FB9A30"/>
<rect x="10.40" y="461.42" width="38.00" height="4.74" fill="#FEC44F"/>
<rect x="48.40" y="461.42" width="38.00" height="4.74" fill="#FB9A30"/>
<rect x="86.40" y="461.42" width="38.00" height="4.74" fill="#FB9A30"/>
<rect x="124.40" y="461.42" width="38.00" height="4.74" fill="#FB9A30"/>
<rect x="162.40" y="461.42" width="38.00" height="4.74" fill="#FB9A30"/>
<rect x="10.40" y="466.17" width="38.00" height="4.74" fill="#FB9A30"/>
<rect x="48.40" y="466.17" width="38.00" height="4.74" fill="#FB9A30"/>
<rect x="86.40" y="466.17" width="38.00" height="4.74" fill="#EA752A"/>
<rect x="124.40" y="466.17" width="38.00" height="4.74" fill="#EA752A"/>
<rect x="162.40" y="466.17" width="38.00" height="4.74" fill="#FB9A30"/>
<rect x="10.40" y="470.91" width="38.00" height="4.74" fill="#FFFFE5"/>
<rect x="48.40" y="470.91" width="38.00" height="4.74" fill="#FEE391"/>
<rect x="86.40" y="470.91" width="38.00" height="4.74" fill="#FEC44F"/>
<rect x="124.40" y="470.91" width="38.00" height="4.74" fill="#FB9A30"/>
<rect x="162.40" y="470.91" width="38.00" height="4.74" fill="#FB9A30"/>
<rect x="10.40" y="475.66" width="38.00" height="4.74" fill="#FFF7BC"/>
<rect x="48.40" y="475.66" width="38.00" height="4.74" fill="#FEE391"/>
<rect x="86.40" y="475.66" width="38.00" height="4.74" fill="#FB9A30"/>
<rect x="124.40" y="475.66" width="38.00" height="4.74" fill="#EA752A"/>
<rect x="162.40" y="475.66" width="38.00" height="4.74" fill="#FB9A30"/>
<rect x="10.40" y="480.40" width="38.00" height="4.74" fill="#FEC44F"/>
<rect x="48.40" y="480.40" width="38.00" height="4.74" fill="#FB9A30"/>
<rect x="86.40" y="480.40" width="38.00" height="4.74" fill="#FB9A30"/>
<rect x="124.40" y="480.40" width="38.00" height="4.74" fill="#FB9A30"/>
<rect x="162.40" y="480.40" width="38.00" height="4.74" fill="#FB9A30"/>
<rect x="10.40" y="485.14" width="38.00" height="4.74" fill="#FB9A30"/>
<rect x="48.40" y="485.14" width="38.00" height="4.74" fill="#FB9A30"/>
<rect x="86.40" y="485.14" width="38.00" height="4.74" fill="#FB9A30"/>
<rect x="124.40" y="485.14" width="38.00" height="4.74" fill="#FB9A30"/>
<rect x="162.40" y="485.14" width="38.00" height="4.74" fill="#FB9A30"/>
<rect x="10.40" y="489.89" width="38.00" height="4.74" fill="#FFFFE5"/>
<rect x="48.40" y="489.89" width="38.00" height="4.74" fill="#FEE391"/>
<rect x="86.40" y="489.89" width="38.00" height="4.74" fill="#FEC44F"/>
<rect x="124.40" y="489.89" width="38.00" height="4.74" fill="#FEC44F"/>
<rect x="162.40" y="489.89" width="38.00" height="4.74" fill="#FB9A30"/>
<rect x="10.40" y="494.63" width="38.00" height="4.74" fill="#FEE391"/>
<rect x="48.40" y="494.63" width="38.00" height="4.74" fill="#FEE391"/>
<rect x="86.40" y="494.63" width="38.00" height="4.74" fill="#FEE391"/>
<rect x="124.40" y="494.63" width="38.00" height="4.74" fill="#FB9A30"/>
<rect x="162.40" y="494.63" width="38.00" height="4.74" fill="#FB9A30"/>
<rect x="10.40" y="499.38" width="38.00" height="4.74" fill="#FEE391"/>
<rect x="48.40" y="499.38" width="38.00" height="4.74" fill="#FEC44F"/>
<rect x="86.40" y="499.38" width="38.00" height="4.74" fill="#FB9A30"/>
<rect x="124.40" y="499.38" width="38.00" height="4.74" fill="#FB9A30"/>
<rect x="162.40" y="499.38" width="38.00" height="4.74" fill="#FB9A30"/>
<rect x="10.40" y="504.12" width="38.00" height="4.74" fill="#FEC44F"/>
<rect x="48.40" y="504.12" width="38.00" height="4.74" fill="#FB9A30"/>
<rect x="86.40" y="504.12" width="38.00" height="4.74" fill="#FB9A30"/>
<rect x="124.40" y="504.12" width="38.00" height="4.74" fill="#FB9A30"/>
<rect x="162.40" y="504.12" width="38.00" height="4.74" fill="#FB9A30"/>
<rect x="10.40" y="508.86" width="38.00" height="4.74" fill="#FFFFE5"/>
<rect x="48.40" y="508.86" width="38.00" height="4.74" fill="#FEE391"/>
<rect x="86.40" y="508.86" width="38.00" height="4.74" fill="#FB9A30"/>
<rect x="124.40" y="508.86" width="38.00" height="4.74" fill="#FB9A30"/>
<rect x="162.40" y="508.86" width="38.00" height="4.74" fill="#FB9A30"/>
<rect x="10.40" y="513.61" width="38.00" height="4.74" fill="#FFFFE5"/>
<rect x="48.40" y="513.61" width="38.00" height="4.74" fill="#FEC44F"/>
<rect x="86.40" y="513.61" width="38.00" height="4.74" fill="#FB9A30"/>
<rect x="124.40" y="513.61" width="38.00" height="4.74" fill="#FB9A30"/>
<rect x="162.40" y="513.61" width="38.00" height="4.74" fill="#FB9A30"/>
<rect x="10.40" y="518.35" width="38.00" height="4.74" fill="#FEE391"/>
<rect x="48.40" y="518.35" width="38.00" height="4.74" fill="#FEC44F"/>
<rect x="86.40" y="518.35" width="38.00" height="4.74" fill="#FEC44F"/>
<rect x="124.40" y="518.35" width="38.00" height="4.74" fill="#FB9A30"/>
<rect x="162.40" y="518.35" width="38.00" height="4.74" fill="#FB9A30"/>
<rect x="10.40" y="523.10" width="38.00" height="4.74" fill="#FEE391"/>
<rect x="48.40" y="523.10" width="38.00" height="4.74" fill="#FEC44F"/>
<rect x="86.40" y="523.10" width="38.00" height="4.74" fill="#FEC44F"/>
<rect x="124.40" y="523.10" width="38.00" height="4.74" fill="#FB9A30"/>
<rect x="162.40" y="523.10" width="38.00" height="4.74" fill="#FB9A30"/>
<rect x="10.40" y="527.84" width="38.00" height="4.74" fill="#FFFFE5"/>
<rect x="48.40" y="527.84" width="38.00" height="4.74" fill="#FFF7BC"/>
<rect x="86.40" y="527.84" width="38.00" height="4.74" fill="#FEC44F"/>
<rect x="124.40" y="527.84" width="38.00" height="4.74" fill="#FB9A30"/>
<rect x="162.40" y="527.84" width="38.00" height="4.74" fill="#FB9A30"/>
<rect x="10.40" y="532.58" width="38.00" height="4.74" fill="#FFFFE5"/>
<rect x="48.40" y="532.58" width="38.00" height="4.74" fill="#FFFFE5"/>
<rect x="86.40" y="532.58" width="38.00" height="4.74" fill="#FEC44F"/>
<rect x="124.40" y="532.58" width="38.00" height="4.74" fill="#FEE391"/>
<rect x="162.40" y="532.58" width="38.00" height="4.74" fill="#FB9A30"/>
<rect x="10.40" y="537.33" width="38.00" height="4.74" fill="#FEE391"/>
<rect x="48.40" y="537.33" width="38.00" height="4.74" fill="#FEE391"/>
<rect x="86.40" y="537.33" width="38.00" height="4.74" fill="#FEC44F"/>
<rect x="124.40" y="537.33" width="38.00" height="4.74" fill="#FB9A30"/>
<rect x="162.40" y="537.33" width="38.00" height="4.74" fill="#FB9A30"/>
<rect x="10.40" y="542.07" width="38.00" height="4.74" fill="#FEE391"/>
<rect x="48.40" y="542.07" width="38.00" height="4.74" fill="#FEC44F"/>
<rect x="86.40" y="542.07" width="38.00" height="4.74" fill="#FEC44F"/>
<rect x="124.40" y="542.07" width="38.00" height="4.74" fill="#FB9A30"/>
<rect x="162.40" y="542.07" width="38.00" height="4.74" fill="#FB9A30"/>
<rect x="10.40" y="546.82" width="38.00" height="4.74" fill="#FFFFE5"/>
<rect x="48.40" y="546.82" width="38.00" height="4.74" fill="#FFFFE5"/>
<rect x="86.40" y="546.82" width="38.00" height="4.74" fill="#FEE391"/>
<rect x="124.40" y="546.82" width="38.00" height="4.74" fill="#FEE391"/>
<rect x="162.40" y="546.82" width="38.00" height="4.74" fill="#FB9A30"/>
<rect x="10.40" y="551.56" width="38.00" height="4.74" fill="#FEC44F"/>
<rect x="48.40" y="551.56" width="38.00" height="4.74" fill="#FEC44F"/>
<rect x="86.40" y="551.56" width="38.00" height="4.74" fill="#FB9A30"/>
<rect x="124.40" y="551.56" width="38.00" height="4.74" fill="#FB9A30"/>
<rect x="162.40" y="551.56" width="38.00" height="4.74" fill="#FB9A30"/>
<rect x="10.40" y="556.30" width="38.00" height="4.74" fill="#FEC44F"/>
<rect x="48.40" y="556.30" width="38.00" height="4.74" fill="#FEC44F"/>
<rect x="86.40" y="556.30" width="38.00" height="4.74" fill="#FEC44F"/>
<rect x="124.40" y="556.30" width="38.00" height="4.74" fill="#FEC44F"/>
<rect x="162.40" y="556.30" width="38.00" height="4.74" fill="#FB9A30"/>
<rect x="10.40" y="561.05" width="38.00" height="4.74" fill="#FFFFE5"/>
<rect x="48.40" y="561.05" width="38.00" height="4.74" fill="#FFFFE5"/>
<rect x="86.40" y="561.05" width="38.00" height="4.74" fill="#FB9A30"/>
<rect x="124.40" y="561.05" width="38.00" height="4.74" fill="#FB9A30"/>
<rect x="162.40" y="561.05" width="38.00" height="4.74" fill="#FB9A30"/>
<rect x="10.40" y="565.79" width="38.00" height="4.74" fill="#FFFFE5"/>
<rect x="48.40" y="565.79" width="38.00" height="4.74" fill="#FEC44F"/>
<rect x="86.40" y="565.79" width="38.00" height="4.74" fill="#FEC44F"/>
<rect x="124.40" y="565.79" width="38.00" height="4.74" fill="#FEC44F"/>
<rect x="162.40" y="565.79" width="38.00" height="4.74" fill="#FB9A30"/>
<rect x="10.40" y="570.54" width="38.00" height="4.74" fill="#FEE391"/>
<rect x="48.40" y="570.54" width="38.00" height="4.74" fill="#FB9A30"/>
<rect x="86.40" y="570.54" width="38.00" height="4.74" fill="#FB9A30"/>
<rect x="124.40" y="570.54" width="38.00" height="4.74" fill="#FB9A30"/>
<rect x="162.40" y="570.54" width="38.00" height="4.74" fill="#FB9A30"/>
<rect x="10.40" y="575.28" width="38.00" height="4.74" fill="#FEE391"/>
<rect x="48.40" y="575.28" width="38.00" height="4.74" fill="#FEC44F"/>
<rect x="86.40" y="575.28" width="38.00" height="4.74" fill="#FB9A30"/>
<rect x="124.40" y="575.28" width="38.00" height="4.74" fill="#FB9A30"/>
<rect x="162.40" y="575.28" width="38.00" height="4.74" fill="#FB9A30"/>
<rect x="10.40" y="580.02" width="38.00" height="4.74" fill="#FEE391"/>
<rect x="48.40" y="580.02" width="38.00" height="4.74" fill="#FEE391"/>
<rect x="86.40" y="580.02" width="38.00" height="4.74" fill="#FEC44F"/>
<rect x="124.40" y="580.02" width="38.00" height="4.74" fill="#FEC44F"/>
<rect x="162.40" y="580.02" width="38.00" height="4.74" fill="#FEC44F"/>
<rect x="10.40" y="584.77" width="38.00" height="4.74" fill="#FEE391"/>
<rect x="48.40" y="584.77" width="38.00" height="4.74" fill="#FEE391"/>
<rect x="86.40" y="584.77" width="38.00" height="4.74" fill="#FEC44F"/>
<rect x="124.40" y="584.77" width="38.00" height="4.74" fill="#FEC44F"/>
<rect x="162.40" y="584.77" width="38.00" height="4.74" fill="#FEC44F"/>
<rect x="10.40" y="589.51" width="38.00" height="4.74" fill="#FEE391"/>
<rect x="48.40" y="589.51" width="38.00" height="4.74" fill="#FEE391"/>
<rect x="86.40" y="589.51" width="38.00" height="4.74" fill="#FB9A30"/>
<rect x="124.40" y="589.51" width="38.00" height="4.74" fill="#FB9A30"/>
<rect x="162.40" y="589.51" width="38.00" height="4.74" fill="#FEC44F"/>
<rect x="10.40" y="594.26" width="38.00" height="4.74" fill="#FEC44F"/>
<rect x="48.40" y="594.26" width="38.00" height="4.74" fill="#FEC44F"/>
<rect x="86.40" y="594.26" width="38.00" height="4.74" fill="#FEC44F"/>
<rect x="124.40" y="594.26" width="38.00" height="4.74" fill="#FEC44F"/>
<rect x="162.40" y="594.26" width="38.00" height="4.74" fill="#FEC44F"/>
</g>
<text transform="translate(202.70 365.92) rotate(0.05) scale(0.25)" font-size="21.2" text-anchor="start" font-weight="bold" font-family='"Liberation Serif", serif' fill="#000" stroke="#000" stroke-width="0.40">Gm20388</text>
<text transform="translate(202.70 370.67) rotate(0.05) scale(0.25)" font-size="21.2" text-anchor="start" font-weight="bold" font-family='"Liberation Serif", serif' fill="#000" stroke="#000" stroke-width="0.40">Fgfr2</text>
<text transform="translate(202.70 375.41) rotate(0.05) scale(0.25)" font-size="21.2" text-anchor="start" font-weight="bold" font-family='"Liberation Serif", serif' fill="#000" stroke="#000" stroke-width="0.40">Opcml</text>
<text transform="translate(202.70 380.15) rotate(0.05) scale(0.25)" font-size="21.2" text-anchor="start" font-weight="bold" font-family='"Liberation Serif", serif' fill="#000" stroke="#000" stroke-width="0.40">Cntn5</text>
<text transform="translate(202.70 384.90) rotate(0.05) scale(0.25)" font-size="21.2" text-anchor="start" font-weight="bold" font-family='"Liberation Serif", serif' fill="#000" stroke="#000" stroke-width="0.40">Zbtb20</text>
<text transform="translate(202.70 389.64) rotate(0.05) scale(0.25)" font-size="21.2" text-anchor="start" font-weight="bold" font-family='"Liberation Serif", serif' fill="#000" stroke="#000" stroke-width="0.40">Gphn</text>
<text transform="translate(202.70 394.39) rotate(0.05) scale(0.25)" font-size="21.2" text-anchor="start" font-weight="bold" font-family='"Liberation Serif", serif' fill="#000" stroke="#000" stroke-width="0.40">Gm37240</text>
<text transform="translate(202.70 399.13) rotate(0.05) scale(0.25)" font-size="21.2" text-anchor="start" font-weight="bold" font-family='"Liberation Serif", serif' fill="#000" stroke="#000" stroke-width="0.40">Dopey1</text>
<text transform="translate(202.70 403.87) rotate(0.05) scale(0.25)" font-size="21.2" text-anchor="start" font-weight="bold" font-family='"Liberation Serif", serif' fill="#000" stroke="#000" stroke-width="0.40">Cul5</text>
<text transform="translate(202.70 408.62) rotate(0.05) scale(0.25)" font-size="21.2" text-anchor="start" font-weight="bold" font-family='"Liberation Serif", serif' fill="#000" stroke="#000" stroke-width="0.40">Maml2</text>
<text transform="translate(202.70 413.36) rotate(0.05) scale(0.25)" font-size="21.2" text-anchor="start" font-weight="bold" font-family='"Liberation Serif", serif' fill="#000" stroke="#000" stroke-width="0.40">Clstn2</text>
<text transform="translate(202.70 418.11) rotate(0.05) scale(0.25)" font-size="21.2" text-anchor="start" font-weight="bold" font-family='"Liberation Serif", serif' fill="#000" stroke="#000" stroke-width="0.40">Tgfbr2</text>
<text transform="translate(202.70 422.85) rotate(0.05) scale(0.25)" font-size="21.2" text-anchor="start" font-weight="bold" font-family='"Liberation Serif", serif' fill="#000" stroke="#000" stroke-width="0.40">Tcf12</text>
<text transform="translate(202.70 427.59) rotate(0.05) scale(0.25)" font-size="21.2" text-anchor="start" font-weight="bold" font-family='"Liberation Serif", serif' fill="#000" stroke="#000" stroke-width="0.40">Ntm</text>
<text transform="translate(202.70 432.34) rotate(0.05) scale(0.25)" font-size="21.2" text-anchor="start" font-weight="bold" font-family='"Liberation Serif", serif' fill="#000" stroke="#000" stroke-width="0.40">Nrxn3</text>
<text transform="translate(202.70 437.08) rotate(0.05) scale(0.25)" font-size="21.2" text-anchor="start" font-weight="bold" font-family='"Liberation Serif", serif' fill="#000" stroke="#000" stroke-width="0.40">Lrrc56</text>
<text transform="translate(202.70 441.83) rotate(0.05) scale(0.25)" font-size="21.2" text-anchor="start" font-weight="bold" font-family='"Liberation Serif", serif' fill="#000" stroke="#000" stroke-width="0.40">Hras</text>
<text transform="translate(202.70 446.57) rotate(0.05) scale(0.25)" font-size="21.2" text-anchor="start" font-weight="bold" font-family='"Liberation Serif", serif' fill="#000" stroke="#000" stroke-width="0.40">Dmd</text>
<text transform="translate(202.70 451.31) rotate(0.05) scale(0.25)" font-size="21.2" text-anchor="start" font-weight="bold" font-family='"Liberation Serif", serif' fill="#000" stroke="#000" stroke-width="0.40">Cog5</text>
<text transform="translate(202.70 456.06) rotate(0.05) scale(0.25)" font-size="21.2" text-anchor="start" font-weight="bold" font-family='"Liberation Serif", serif' fill="#000" stroke="#000" stroke-width="0.40">Rbc9</text>
<text transform="translate(202.70 460.80) rotate(0.05) scale(0.25)" font-size="21.2" text-anchor="start" font-weight="bold" font-family='"Liberation Serif", serif' fill="#000" stroke="#000" stroke-width="0.40">Ube2cbp</text>
<text transform="translate(202.70 465.55) rotate(0.05) scale(0.25)" font-size="21.2" text-anchor="start" font-weight="bold" font-family='"Liberation Serif", serif' fill="#000" stroke="#000" stroke-width="0.40">Susd1</text>
<text transform="translate(202.70 470.29) rotate(0.05) scale(0.25)" font-size="21.2" text-anchor="start" font-weight="bold" font-family='"Liberation Serif", serif' fill="#000" stroke="#000" stroke-width="0.40">Rora</text>
<text transform="translate(202.70 475.03) rotate(0.05) scale(0.25)" font-size="21.2" text-anchor="start" font-weight="bold" font-family='"Liberation Serif", serif' fill="#000" stroke="#000" stroke-width="0.40">Rbms3</text>
<text transform="translate(202.70 479.78) rotate(0.05) scale(0.25)" font-size="21.2" text-anchor="start" font-weight="bold" font-family='"Liberation Serif", serif' fill="#000" stroke="#000" stroke-width="0.40">Ptprd</text>
<text transform="translate(202.70 484.52) rotate(0.05) scale(0.25)" font-size="21.2" text-anchor="start" font-weight="bold" font-family='"Liberation Serif", serif' fill="#000" stroke="#000" stroke-width="0.40">Phip</text>
<text transform="translate(202.70 489.27) rotate(0.05) scale(0.25)" font-size="21.2" text-anchor="start" font-weight="bold" font-family='"Liberation Serif", serif' fill="#000" stroke="#000" stroke-width="0.40">Dtk</text>
<text transform="translate(202.70 494.01) rotate(0.05) scale(0.25)" font-size="21.2" text-anchor="start" font-weight="bold" font-family='"Liberation Serif", serif' fill="#000" stroke="#000" stroke-width="0.40">Arhgap32</text>
<text transform="translate(202.70 498.75) rotate(0.05) scale(0.25)" font-size="21.2" text-anchor="start" font-weight="bold" font-family='"Liberation Serif", serif' fill="#000" stroke="#000" stroke-width="0.40">Tmx4b</text>
<text transform="translate(202.70 503.50) rotate(0.05) scale(0.25)" font-size="21.2" text-anchor="start" font-weight="bold" font-family='"Liberation Serif", serif' fill="#000" stroke="#000" stroke-width="0.40">Thsd4</text>
<text transform="translate(202.70 508.24) rotate(0.05) scale(0.25)" font-size="21.2" text-anchor="start" font-weight="bold" font-family='"Liberation Serif", serif' fill="#000" stroke="#000" stroke-width="0.40">Susd6</text>
<text transform="translate(202.70 512.99) rotate(0.05) scale(0.25)" font-size="21.2" text-anchor="start" font-weight="bold" font-family='"Liberation Serif", serif' fill="#000" stroke="#000" stroke-width="0.40">Srgap2</text>
<text transform="translate(202.70 517.73) rotate(0.05) scale(0.25)" font-size="21.2" text-anchor="start" font-weight="bold" font-family='"Liberation Serif", serif' fill="#000" stroke="#000" stroke-width="0.40">Rps6</text>
<text transform="translate(202.70 522.47) rotate(0.05) scale(0.25)" font-size="21.2" text-anchor="start" font-weight="bold" font-family='"Liberation Serif", serif' fill="#000" stroke="#000" stroke-width="0.40">Ralgapa1</text>
<text transform="translate(202.70 527.22) rotate(0.05) scale(0.25)" font-size="21.2" text-anchor="start" font-weight="bold" font-family='"Liberation Serif", serif' fill="#000" stroke="#000" stroke-width="0.40">Ppp2r5e</text>
<text transform="translate(202.70 531.96) rotate(0.05) scale(0.25)" font-size="21.2" text-anchor="start" font-weight="bold" font-family='"Liberation Serif", serif' fill="#000" stroke="#000" stroke-width="0.40">Magi2</text>
<text transform="translate(202.70 536.71) rotate(0.05) scale(0.25)" font-size="21.2" text-anchor="start" font-weight="bold" font-family='"Liberation Serif", serif' fill="#000" stroke="#000" stroke-width="0.40">Lingo2</text>
<text transform="translate(202.70 541.45) rotate(0.05) scale(0.25)" font-size="21.2" text-anchor="start" font-weight="bold" font-family='"Liberation Serif", serif' fill="#000" stroke="#000" stroke-width="0.40">Kirrel3</text>
<text transform="translate(202.70 546.19) rotate(0.05) scale(0.25)" font-size="21.2" text-anchor="start" font-weight="bold" font-family='"Liberation Serif", serif' fill="#000" stroke="#000" stroke-width="0.40">Gm26733</text>
<text transform="translate(202.70 550.94) rotate(0.05) scale(0.25)" font-size="21.2" text-anchor="start" font-weight="bold" font-family='"Liberation Serif", serif' fill="#000" stroke="#000" stroke-width="0.40">Fhit</text>
<text transform="translate(202.70 555.68) rotate(0.05) scale(0.25)" font-size="21.2" text-anchor="start" font-weight="bold" font-family='"Liberation Serif", serif' fill="#000" stroke="#000" stroke-width="0.40">Fat3</text>
<text transform="translate(202.70 560.43) rotate(0.05) scale(0.25)" font-size="21.2" text-anchor="start" font-weight="bold" font-family='"Liberation Serif", serif' fill="#000" stroke="#000" stroke-width="0.40">Dync2h1</text>
<text transform="translate(202.70 565.17) rotate(0.05) scale(0.25)" font-size="21.2" text-anchor="start" font-weight="bold" font-family='"Liberation Serif", serif' fill="#000" stroke="#000" stroke-width="0.40">Csmd1</text>
<text transform="translate(202.70 569.91) rotate(0.05) scale(0.25)" font-size="21.2" text-anchor="start" font-weight="bold" font-family='"Liberation Serif", serif' fill="#000" stroke="#000" stroke-width="0.40">Camta1</text>
<text transform="translate(202.70 574.66) rotate(0.05) scale(0.25)" font-size="21.2" text-anchor="start" font-weight="bold" font-family='"Liberation Serif", serif' fill="#000" stroke="#000" stroke-width="0.40">Arhgap42</text>
<text transform="translate(202.70 579.40) rotate(0.05) scale(0.25)" font-size="21.2" text-anchor="start" font-weight="bold" font-family='"Liberation Serif", serif' fill="#000" stroke="#000" stroke-width="0.40">3110039I08Rik</text>
<text transform="translate(202.70 584.15) rotate(0.05) scale(0.25)" font-size="21.2" text-anchor="start" font-weight="bold" font-family='"Liberation Serif", serif' fill="#000" stroke="#000" stroke-width="0.40">Zzdc7</text>
<text transform="translate(202.70 588.89) rotate(0.05) scale(0.25)" font-size="21.2" text-anchor="start" font-weight="bold" font-family='"Liberation Serif", serif' fill="#000" stroke="#000" stroke-width="0.40">Wwox</text>
<text transform="translate(202.70 593.63) rotate(0.05) scale(0.25)" font-size="21.2" text-anchor="start" font-weight="bold" font-family='"Liberation Serif", serif' fill="#000" stroke="#000" stroke-width="0.40">Stag1</text>
<text transform="translate(202.70 598.38) rotate(0.05) scale(0.25)" font-size="21.2" text-anchor="start" font-weight="bold" font-family='"Liberation Serif", serif' fill="#000" stroke="#000" stroke-width="0.40">Slc9a9</text>
<text transform="translate(104.50 357.50) rotate(0.05) scale(0.25)" font-size="33.2" text-anchor="middle" font-weight="bold" font-family='"Liberation Serif", serif' fill="#000">SB Digestor</text>
<text transform="translate(26.70 600.80) rotate(90) scale(0.25)" font-size="32.8" text-anchor="start" font-weight="bold" font-family='"Liberation Serif", serif' fill="#000">X10k</text>
<text transform="translate(64.70 600.80) rotate(90) scale(0.25)" font-size="32.8" text-anchor="start" font-weight="bold" font-family='"Liberation Serif", serif' fill="#000">X50k</text>
<text transform="translate(102.70 600.80) rotate(90) scale(0.25)" font-size="32.8" text-anchor="start" font-weight="bold" font-family='"Liberation Serif", serif' fill="#000">X150k</text>
<text transform="translate(140.70 600.80) rotate(90) scale(0.25)" font-size="32.8" text-anchor="start" font-weight="bold" font-family='"Liberation Serif", serif' fill="#000">X250k</text>
<text transform="translate(178.70 600.80) rotate(90) scale(0.25)" font-size="32.8" text-anchor="start" font-weight="bold" font-family='"Liberation Serif", serif' fill="#000">allreads</text>
<rect x="246" y="439.70" width="6" height="11.15" fill="#FFFFE5"/>
<rect x="246" y="428.60" width="6" height="11.15" fill="#FFF7BC"/>
<rect x="246" y="417.50" width="6" height="11.15" fill="#FEE391"/>
<rect x="246" y="406.40" width="6" height="11.15" fill="#FEC44F"/>
<rect x="246" y="395.30" width="6" height="11.15" fill="#FB9A30"/>
<rect x="246" y="384.20" width="6" height="11.15" fill="#EA752A"/>
<rect x="246" y="373.10" width="6" height="11.15" fill="#CB5328"/>
<rect x="246" y="362.00" width="6" height="11.15" fill="#8E2B1C"/>
<text transform="translate(254.30 374.20) rotate(0.05) scale(0.25)" font-size="16.4" text-anchor="start" font-weight="bold" font-family='"Liberation Serif", serif' fill="#000" stroke="#000" stroke-width="0.40">15</text>
<text transform="translate(254.30 400.40) rotate(0.05) scale(0.25)" font-size="16.4" text-anchor="start" font-weight="bold" font-family='"Liberation Serif", serif' fill="#000" stroke="#000" stroke-width="0.40">10</text>
<text transform="translate(254.30 426.50) rotate(0.05) scale(0.25)" font-size="16.4" text-anchor="start" font-weight="bold" font-family='"Liberation Serif", serif' fill="#000" stroke="#000" stroke-width="0.40">5</text>
<text transform="translate(254.30 452.40) rotate(0.05) scale(0.25)" font-size="16.4" text-anchor="start" font-weight="bold" font-family='"Liberation Serif", serif' fill="#000" stroke="#000" stroke-width="0.40">0</text>
<g stroke="#8f8f8f" stroke-opacity="0.6" stroke-width="0.4">
<rect x="286.30" y="361.80" width="37.62" height="4.74" fill="#FFFFE5"/>
<rect x="323.92" y="361.80" width="37.62" height="4.74" fill="#FFFFE5"/>
<rect x="361.54" y="361.80" width="37.62" height="4.74" fill="#FFFFE5"/>
<rect x="399.16" y="361.80" width="37.62" height="4.74" fill="#FFFFE5"/>
<rect x="436.78" y="361.80" width="37.62" height="4.74" fill="#8E2B1C"/>
<rect x="286.30" y="366.54" width="37.62" height="4.74" fill="#8E2B1C"/>
<rect x="323.92" y="366.54" width="37.62" height="4.74" fill="#8E2B1C"/>
<rect x="361.54" y="366.54" width="37.62" height="4.74" fill="#8E2B1C"/>
<rect x="399.16" y="366.54" width="37.62" height="4.74" fill="#8E2B1C"/>
<rect x="436.78" y="366.54" width="37.62" height="4.74" fill="#8E2B1C"/>
<rect x="286.30" y="371.29" width="37.62" height="4.74" fill="#FFFFE5"/>
<rect x="323.92" y="371.29" width="37.62" height="4.74" fill="#FFFFE5"/>
<rect x="361.54" y="371.29" width="37.62" height="4.74" fill="#FFFFE5"/>
<rect x="399.16" y="371.29" width="37.62" height="4.74" fill="#FFFFE5"/>
<rect x="436.78" y="371.29" width="37.62" height="4.74" fill="#8E2B1C"/>
<rect x="286.30" y="376.03" width="37.62" height="4.74" fill="#FFFFE5"/>
<rect x="323.92" y="376.03" width="37.62" height="4.74" fill="#CB5328"/>
<rect x="361.54" y="376.03" width="37.62" height="4.74" fill="#CB5328"/>
<rect x="399.16" y="376.03" width="37.62" height="4.74" fill="#CB5328"/>
<rect x="436.78" y="376.03" width="37.62" height="4.74" fill="#8E2B1C"/>
<rect x="286.30" y="380.78" width="37.62" height="4.74" fill="#FFFFE5"/>
<rect x="323.92" y="380.78" width="37.62" height="4.74" fill="#FFFFE5"/>
<rect x="361.54" y="380.78" width="37.62" height="4.74" fill="#FFFFE5"/>
<rect x="399.16" y="380.78" width="37.62" height="4.74" fill="#FFF7BC"/>
<rect x="436.78" y="380.78" width="37.62" height="4.74" fill="#CB5328"/>
<rect x="286.30" y="385.52" width="37.62" height="4.74" fill="#FFFFE5"/>
<rect x="323.92" y="385.52" width="37.62" height="4.74" fill="#CB5328"/>
<rect x="361.54" y="385.52" width="37.62" height="4.74" fill="#8E2B1C"/>
<rect x="399.16" y="385.52" width="37.62" height="4.74" fill="#FFFFE5"/>
<rect x="436.78" y="385.52" width="37.62" height="4.74" fill="#CB5328"/>
<rect x="286.30" y="390.26" width="37.62" height="4.74" fill="#8E2B1C"/>
<rect x="323.92" y="390.26" width="37.62" height="4.74" fill="#CB5328"/>
<rect x="361.54" y="390.26" width="37.62" height="4.74" fill="#FEE391"/>
<rect x="399.16" y="390.26" width="37.62" height="4.74" fill="#FEE391"/>
<rect x="436.78" y="390.26" width="37.62" height="4.74" fill="#CB5328"/>
<rect x="286.30" y="395.01" width="37.62" height="4.74" fill="#FFFFE5"/>
<rect x="323.92" y="395.01" width="37.62" height="4.74" fill="#FFFFE5"/>
<rect x="361.54" y="395.01" width="37.62" height="4.74" fill="#FFFFE5"/>
<rect x="399.16" y="395.01" width="37.62" height="4.74" fill="#FFFFE5"/>
<rect x="436.78" y="395.01" width="37.62" height="4.74" fill="#CB5328"/>
<rect x="286.30" y="399.75" width="37.62" height="4.74" fill="#EA752A"/>
<rect x="323.92" y="399.75" width="37.62" height="4.74" fill="#EA752A"/>
<rect x="361.54" y="399.75" width="37.62" height="4.74" fill="#CB5328"/>
<rect x="399.16" y="399.75" width="37.62" height="4.74" fill="#CB5328"/>
<rect x="436.78" y="399.75" width="37.62" height="4.74" fill="#CB5328"/>
<rect x="286.30" y="404.50" width="37.62" height="4.74" fill="#FB9A30"/>
<rect x="323.92" y="404.50" width="37.62" height="4.74" fill="#FFFFE5"/>
<rect x="361.54" y="404.50" width="37.62" height="4.74" fill="#EA752A"/>
<rect x="399.16" y="404.50" width="37.62" height="4.74" fill="#CB5328"/>
<rect x="436.78" y="404.50" width="37.62" height="4.74" fill="#EA752A"/>
<rect x="286.30" y="409.24" width="37.62" height="4.74" fill="#EA752A"/>
<rect x="323.92" y="409.24" width="37.62" height="4.74" fill="#CB5328"/>
<rect x="361.54" y="409.24" width="37.62" height="4.74" fill="#EA752A"/>
<rect x="399.16" y="409.24" width="37.62" height="4.74" fill="#EA752A"/>
<rect x="436.78" y="409.24" width="37.62" height="4.74" fill="#EA752A"/>
<rect x="286.30" y="413.98" width="37.62" height="4.74" fill="#FFFFE5"/>
<rect x="323.92" y="413.98" width="37.62" height="4.74" fill="#FFFFE5"/>
<rect x="361.54" y="413.98" width="37.62" height="4.74" fill="#FFFFE5"/>
<rect x="399.16" y="413.98" width="37.62" height="4.74" fill="#FFFFE5"/>
<rect x="436.78" y="413.98" width="37.62" height="4.74" fill="#EA752A"/>
<rect x="286.30" y="418.73" width="37.62" height="4.74" fill="#FFFFE5"/>
<rect x="323.92" y="418.73" width="37.62" height="4.74" fill="#FFFFE5"/>
<rect x="361.54" y="418.73" width="37.62" height="4.74" fill="#EA752A"/>
<rect x="399.16" y="418.73" width="37.62" height="4.74" fill="#FFFFE5"/>
<rect x="436.78" y="418.73" width="37.62" height="4.74" fill="#EA752A"/>
<rect x="286.30" y="423.47" width="37.62" height="4.74" fill="#FFFFE5"/>
<rect x="323.92" y="423.47" width="37.62" height="4.74" fill="#FFFFE5"/>
<rect x="361.54" y="423.47" width="37.62" height="4.74" fill="#FFFFE5"/>
<rect x="399.16" y="423.47" width="37.62" height="4.74" fill="#FFFFE5"/>
<rect x="436.78" y="423.47" width="37.62" height="4.74" fill="#EA752A"/>
<rect x="286.30" y="428.22" width="37.62" height="4.74" fill="#FFFFE5"/>
<rect x="323.92" y="428.22" width="37.62" height="4.74" fill="#CB5328"/>
<rect x="361.54" y="428.22" width="37.62" height="4.74" fill="#EA752A"/>
<rect x="399.16" y="428.22" width="37.62" height="4.74" fill="#EA752A"/>
<rect x="436.78" y="428.22" width="37.62" height="4.74" fill="#EA752A"/>
<rect x="286.30" y="432.96" width="37.62" height="4.74" fill="#CB5328"/>
<rect x="323.92" y="432.96" width="37.62" height="4.74" fill="#FB9A30"/>
<rect x="361.54" y="432.96" width="37.62" height="4.74" fill="#EA752A"/>
<rect x="399.16" y="432.96" width="37.62" height="4.74" fill="#EA752A"/>
<rect x="436.78" y="432.96" width="37.62" height="4.74" fill="#EA752A"/>
<rect x="286.30" y="437.70" width="37.62" height="4.74" fill="#FFFFE5"/>
<rect x="323.92" y="437.70" width="37.62" height="4.74" fill="#FFFFE5"/>
<rect x="361.54" y="437.70" width="37.62" height="4.74" fill="#EA752A"/>
<rect x="399.16" y="437.70" width="37.62" height="4.74" fill="#EA752A"/>
<rect x="436.78" y="437.70" width="37.62" height="4.74" fill="#EA752A"/>
<rect x="286.30" y="442.45" width="37.62" height="4.74" fill="#FEC44F"/>
<rect x="323.92" y="442.45" width="37.62" height="4.74" fill="#EA752A"/>
<rect x="361.54" y="442.45" width="37.62" height="4.74" fill="#EA752A"/>
<rect x="399.16" y="442.45" width="37.62" height="4.74" fill="#EA752A"/>
<rect x="436.78" y="442.45" width="37.62" height="4.74" fill="#EA752A"/>
<rect x="286.30" y="447.19" width="37.62" height="4.74" fill="#EA752A"/>
<rect x="323.92" y="447.19" width="37.62" height="4.74" fill="#EA752A"/>
<rect x="361.54" y="447.19" width="37.62" height="4.74" fill="#EA752A"/>
<rect x="399.16" y="447.19" width="37.62" height="4.74" fill="#EA752A"/>
<rect x="436.78" y="447.19" width="37.62" height="4.74" fill="#EA752A"/>
<rect x="286.30" y="451.94" width="37.62" height="4.74" fill="#EA752A"/>
<rect x="323.92" y="451.94" width="37.62" height="4.74" fill="#EA752A"/>
<rect x="361.54" y="451.94" width="37.62" height="4.74" fill="#EA752A"/>
<rect x="399.16" y="451.94" width="37.62" height="4.74" fill="#EA752A"/>
<rect x="436.78" y="451.94" width="37.62" height="4.74" fill="#EA752A"/>
<rect x="286.30" y="456.68" width="37.62" height="4.74" fill="#EA752A"/>
<rect x="323.92" y="456.68" width="37.62" height="4.74" fill="#EA752A"/>
<rect x="361.54" y="456.68" width="37.62" height="4.74" fill="#FB9A30"/>
<rect x="399.16" y="456.68" width="37.62" height="4.74" fill="#FB9A30"/>
<rect x="436.78" y="456.68" width="37.62" height="4.74" fill="#EA752A"/>
<rect x="286.30" y="461.42" width="37.62" height="4.74" fill="#FFFFE5"/>
<rect x="323.92" y="461.42" width="37.62" height="4.74" fill="#FFFFE5"/>
<rect x="361.54" y="461.42" width="37.62" height="4.74" fill="#EA752A"/>
<rect x="399.16" y="461.42" width="37.62" height="4.74" fill="#FFFFE5"/>
<rect x="436.78" y="461.42" width="37.62" height="4.74" fill="#EA752A"/>
<rect x="286.30" y="466.17" width="37.62" height="4.74" fill="#8E2B1C"/>
<rect x="323.92" y="466.17" width="37.62" height="4.74" fill="#EA752A"/>
<rect x="361.54" y="466.17" width="37.62" height="4.74" fill="#EA752A"/>
<rect x="399.16" y="466.17" width="37.62" height="4.74" fill="#EA752A"/>
<rect x="436.78" y="466.17" width="37.62" height="4.74" fill="#EA752A"/>
<rect x="286.30" y="470.91" width="37.62" height="4.74" fill="#FFFFE5"/>
<rect x="323.92" y="470.91" width="37.62" height="4.74" fill="#EA752A"/>
<rect x="361.54" y="470.91" width="37.62" height="4.74" fill="#FB9A30"/>
<rect x="399.16" y="470.91" width="37.62" height="4.74" fill="#FB9A30"/>
<rect x="436.78" y="470.91" width="37.62" height="4.74" fill="#FB9A30"/>
<rect x="286.30" y="475.66" width="37.62" height="4.74" fill="#FB9A30"/>
<rect x="323.92" y="475.66" width="37.62" height="4.74" fill="#FEC44F"/>
<rect x="361.54" y="475.66" width="37.62" height="4.74" fill="#FB9A30"/>
<rect x="399.16" y="475.66" width="37.62" height="4.74" fill="#FB9A30"/>
<rect x="436.78" y="475.66" width="37.62" height="4.74" fill="#FB9A30"/>
<rect x="286.30" y="480.40" width="37.62" height="4.74" fill="#FFFFE5"/>
<rect x="323.92" y="480.40" width="37.62" height="4.74" fill="#FB9A30"/>
<rect x="361.54" y="480.40" width="37.62" height="4.74" fill="#FB9A30"/>
<rect x="399.16" y="480.40" width="37.62" height="4.74" fill="#FB9A30"/>
<rect x="436.78" y="480.40" width="37.62" height="4.74" fill="#FB9A30"/>
<rect x="286.30" y="485.14" width="37.62" height="4.74" fill="#EA752A"/>
<rect x="323.92" y="485.14" width="37.62" height="4.74" fill="#FFFFE5"/>
<rect x="361.54" y="485.14" width="37.62" height="4.74" fill="#FFFFE5"/>
<rect x="399.16" y="485.14" width="37.62" height="4.74" fill="#EA752A"/>
<rect x="436.78" y="485.14" width="37.62" height="4.74" fill="#FB9A30"/>
<rect x="286.30" y="489.89" width="37.62" height="4.74" fill="#FFFFE5"/>
<rect x="323.92" y="489.89" width="37.62" height="4.74" fill="#FFFFE5"/>
<rect x="361.54" y="489.89" width="37.62" height="4.74" fill="#FFFFE5"/>
<rect x="399.16" y="489.89" width="37.62" height="4.74" fill="#FFFFE5"/>
<rect x="436.78" y="489.89" width="37.62" height="4.74" fill="#FB9A30"/>
<rect x="286.30" y="494.63" width="37.62" height="4.74" fill="#FB9A30"/>
<rect x="323.92" y="494.63" width="37.62" height="4.74" fill="#FEC44F"/>
<rect x="361.54" y="494.63" width="37.62" height="4.74" fill="#FEC44F"/>
<rect x="399.16" y="494.63" width="37.62" height="4.74" fill="#FB9A30"/>
<rect x="436.78" y="494.63" width="37.62" height="4.74" fill="#FB9A30"/>
<rect x="286.30" y="499.38" width="37.62" height="4.74" fill="#FFFFE5"/>
<rect x="323.92" y="499.38" width="37.62" height="4.74" fill="#FFFFE5"/>
<rect x="361.54" y="499.38" width="37.62" height="4.74" fill="#FB9A30"/>
<rect x="399.16" y="499.38" width="37.62" height="4.74" fill="#FB9A30"/>
<rect x="436.78" y="499.38" width="37.62" height="4.74" fill="#FB9A30"/>
<rect x="286.30" y="504.12" width="37.62" height="4.74" fill="#FFFFE5"/>
<rect x="323.92" y="504.12" width="37.62" height="4.74" fill="#FEC44F"/>
<rect x="361.54" y="504.12" width="37.62" height="4.74" fill="#FEC44F"/>
<rect x="399.16" y="504.12" width="37.62" height="4.74" fill="#EA752A"/>
<rect x="436.78" y="504.12" width="37.62" height="4.74" fill="#FB9A30"/>
<rect x="286.30" y="508.86" width="37.62" height="4.74" fill="#FB9A30"/>
<rect x="323.92" y="508.86" width="37.62" height="4.74" fill="#FEC44F"/>
<rect x="361.54" y="508.86" width="37.62" height="4.74" fill="#FEC44F"/>
<rect x="399.16" y="508.86" width="37.62" height="4.74" fill="#FEC44F"/>
<rect x="436.78" y="508.86" width="37.62" height="4.74" fill="#FEC44F"/>
<rect x="286.30" y="513.61" width="37.62" height="4.74" fill="#FEC44F"/>
<rect x="323.92" y="513.61" width="37.62" height="4.74" fill="#FEC44F"/>
<rect x="361.54" y="513.61" width="37.62" height="4.74" fill="#FEC44F"/>
<rect x="399.16" y="513.61" width="37.62" height="4.74" fill="#FEC44F"/>
<rect x="436.78" y="513.61" width="37.62" height="4.74" fill="#FEC44F"/>
<rect x="286.30" y="518.35" width="37.62" height="4.74" fill="#EA752A"/>
<rect x="323.92" y="518.35" width="37.62" height="4.74" fill="#FB9A30"/>
<rect x="361.54" y="518.35" width="37.62" height="4.74" fill="#FFFFE5"/>
<rect x="399.16" y="518.35" width="37.62" height="4.74" fill="#FEC44F"/>
<rect x="436.78" y="518.35" width="37.62" height="4.74" fill="#FEC44F"/>
<rect x="286.30" y="523.10" width="37.62" height="4.74" fill="#FEC44F"/>
<rect x="323.92" y="523.10" width="37.62" height="4.74" fill="#FEC44F"/>
<rect x="361.54" y="523.10" width="37.62" height="4.74" fill="#FEC44F"/>
<rect x="399.16" y="523.10" width="37.62" height="4.74" fill="#FEC44F"/>
<rect x="436.78" y="523.10" width="37.62" height="4.74" fill="#FEC44F"/>
<rect x="286.30" y="527.84" width="37.62" height="4.74" fill="#FFFFE5"/>
<rect x="323.92" y="527.84" width="37.62" height="4.74" fill="#FFFFE5"/>
<rect x="361.54" y="527.84" width="37.62" height="4.74" fill="#FEC44F"/>
<rect x="399.16" y="527.84" width="37.62" height="4.74" fill="#FFFFE5"/>
<rect x="436.78" y="527.84" width="37.62" height="4.74" fill="#FEC44F"/>
<rect x="286.30" y="532.58" width="37.62" height="4.74" fill="#FB9A30"/>
<rect x="323.92" y="532.58" width="37.62" height="4.74" fill="#FEC44F"/>
<rect x="361.54" y="532.58" width="37.62" height="4.74" fill="#FEC44F"/>
<rect x="399.16" y="532.58" width="37.62" height="4.74" fill="#FEC44F"/>
<rect x="436.78" y="532.58" width="37.62" height="4.74" fill="#FEC44F"/>
<rect x="286.30" y="537.33" width="37.62" height="4.74" fill="#CB5328"/>
<rect x="323.92" y="537.33" width="37.62" height="4.74" fill="#CB5328"/>
<rect x="361.54" y="537.33" width="37.62" height="4.74" fill="#FEC44F"/>
<rect x="399.16" y="537.33" width="37.62" height="4.74" fill="#8E2B1C"/>
<rect x="436.78" y="537.33" width="37.62" height="4.74" fill="#FEC44F"/>
<rect x="286.30" y="542.07" width="37.62" height="4.74" fill="#FFFFE5"/>
<rect x="323.92" y="542.07" width="37.62" height="4.74" fill="#FB9A30"/>
<rect x="361.54" y="542.07" width="37.62" height="4.74" fill="#FFFFE5"/>
<rect x="399.16" y="542.07" width="37.62" height="4.74" fill="#FFFFE5"/>
<rect x="436.78" y="542.07" width="37.62" height="4.74" fill="#FEC44F"/>
<rect x="286.30" y="546.82" width="37.62" height="4.74" fill="#EA752A"/>
<rect x="323.92" y="546.82" width="37.62" height="4.74" fill="#FEC44F"/>
<rect x="361.54" y="546.82" width="37.62" height="4.74" fill="#FEC44F"/>
<rect x="399.16" y="546.82" width="37.62" height="4.74" fill="#FEC44F"/>
<rect x="436.78" y="546.82" width="37.62" height="4.74" fill="#FEC44F"/>
<rect x="286.30" y="551.56" width="37.62" height="4.74" fill="#FB9A30"/>
<rect x="323.92" y="551.56" width="37.62" height="4.74" fill="#FEC44F"/>
<rect x="361.54" y="551.56" width="37.62" height="4.74" fill="#FEC44F"/>
<rect x="399.16" y="551.56" width="37.62" height="4.74" fill="#FEC44F"/>
<rect x="436.78" y="551.56" width="37.62" height="4.74" fill="#FEC44F"/>
<rect x="286.30" y="556.30" width="37.62" height="4.74" fill="#EA752A"/>
<rect x="323.92" y="556.30" width="37.62" height="4.74" fill="#FFFFE5"/>
<rect x="361.54" y="556.30" width="37.62" height="4.74" fill="#FFFFE5"/>
<rect x="399.16" y="556.30" width="37.62" height="4.74" fill="#FEC44F"/>
<rect x="436.78" y="556.30" width="37.62" height="4.74" fill="#FEC44F"/>
<rect x="286.30" y="561.05" width="37.62" height="4.74" fill="#FFFFE5"/>
<rect x="323.92" y="561.05" width="37.62" height="4.74" fill="#FEC44F"/>
<rect x="361.54" y="561.05" width="37.62" height="4.74" fill="#FEC44F"/>
<rect x="399.16" y="561.05" width="37.62" height="4.74" fill="#FEC44F"/>
<rect x="436.78" y="561.05" width="37.62" height="4.74" fill="#FEC44F"/>
<rect x="286.30" y="565.79" width="37.62" height="4.74" fill="#FFFFE5"/>
<rect x="323.92" y="565.79" width="37.62" height="4.74" fill="#FB9A30"/>
<rect x="361.54" y="565.79" width="37.62" height="4.74" fill="#FEC44F"/>
<rect x="399.16" y="565.79" width="37.62" height="4.74" fill="#FEC44F"/>
<rect x="436.78" y="565.79" width="37.62" height="4.74" fill="#FEC44F"/>
<rect x="286.30" y="570.54" width="37.62" height="4.74" fill="#FFFFE5"/>
<rect x="323.92" y="570.54" width="37.62" height="4.74" fill="#FEC44F"/>
<rect x="361.54" y="570.54" width="37.62" height="4.74" fill="#FEC44F"/>
<rect x="399.16" y="570.54" width="37.62" height="4.74" fill="#FEC44F"/>
<rect x="436.78" y="570.54" width="37.62" height="4.74" fill="#FEC44F"/>
<rect x="286.30" y="575.28" width="37.62" height="4.74" fill="#FEC44F"/>
<rect x="323.92" y="575.28" width="37.62" height="4.74" fill="#FEC44F"/>
<rect x="361.54" y="575.28" width="37.62" height="4.74" fill="#FEC44F"/>
<rect x="399.16" y="575.28" width="37.62" height="4.74" fill="#EA752A"/>
<rect x="436.78" y="575.28" width="37.62" height="4.74" fill="#FEC44F"/>
<rect x="286.30" y="580.02" width="37.62" height="4.74" fill="#FFFFE5"/>
<rect x="323.92" y="580.02" width="37.62" height="4.74" fill="#FFFFE5"/>
<rect x="361.54" y="580.02" width="37.62" height="4.74" fill="#FFFFE5"/>
<rect x="399.16" y="580.02" width="37.62" height="4.74" fill="#FFFFE5"/>
<rect x="436.78" y="580.02" width="37.62" height="4.74" fill="#FEC44F"/>
<rect x="286.30" y="584.77" width="37.62" height="4.74" fill="#EA752A"/>
<rect x="323.92" y="584.77" width="37.62" height="4.74" fill="#FEC44F"/>
<rect x="361.54" y="584.77" width="37.62" height="4.74" fill="#FB9A30"/>
<rect x="399.16" y="584.77" width="37.62" height="4.74" fill="#FEC44F"/>
<rect x="436.78" y="584.77" width="37.62" height="4.74" fill="#FEC44F"/>
<rect x="286.30" y="589.51" width="37.62" height="4.74" fill="#EA752A"/>
<rect x="323.92" y="589.51" width="37.62" height="4.74" fill="#FEC44F"/>
<rect x="361.54" y="589.51" width="37.62" height="4.74" fill="#FEC44F"/>
<rect x="399.16" y="589.51" width="37.62" height="4.74" fill="#FEC44F"/>
<rect x="436.78" y="589.51" width="37.62" height="4.74" fill="#FEC44F"/>
<rect x="286.30" y="594.26" width="37.62" height="4.74" fill="#FEC44F"/>
<rect x="323.92" y="594.26" width="37.62" height="4.74" fill="#FEC44F"/>
<rect x="361.54" y="594.26" width="37.62" height="4.74" fill="#FEC44F"/>
<rect x="399.16" y="594.26" width="37.62" height="4.74" fill="#FEC44F"/>
<rect x="436.78" y="594.26" width="37.62" height="4.74" fill="#FEC44F"/>
</g>
<text transform="translate(476.70 365.92) rotate(0.05) scale(0.25)" font-size="21.2" text-anchor="start" font-weight="bold" font-family='"Liberation Serif", serif' fill="#000" stroke="#000" stroke-width="0.40">Gm48226</text>
<text transform="translate(476.70 370.67) rotate(0.05) scale(0.25)" font-size="21.2" text-anchor="start" font-weight="bold" font-family='"Liberation Serif", serif' fill="#000" stroke="#000" stroke-width="0.40">Cul5</text>
<text transform="translate(476.70 375.41) rotate(0.05) scale(0.25)" font-size="21.2" text-anchor="start" font-weight="bold" font-family='"Liberation Serif", serif' fill="#000" stroke="#000" stroke-width="0.40">Gm48610</text>
<text transform="translate(476.70 380.15) rotate(0.05) scale(0.25)" font-size="21.2" text-anchor="start" font-weight="bold" font-family='"Liberation Serif", serif' fill="#000" stroke="#000" stroke-width="0.40">4933431K14Rik</text>
<text transform="translate(476.70 384.90) rotate(0.05) scale(0.25)" font-size="21.2" text-anchor="start" font-weight="bold" font-family='"Liberation Serif", serif' fill="#000" stroke="#000" stroke-width="0.40">Mir1946b</text>
<text transform="translate(476.70 389.64) rotate(0.05) scale(0.25)" font-size="21.2" text-anchor="start" font-weight="bold" font-family='"Liberation Serif", serif' fill="#000" stroke="#000" stroke-width="0.40">Gm9385</text>
<text transform="translate(476.70 394.39) rotate(0.05) scale(0.25)" font-size="21.2" text-anchor="start" font-weight="bold" font-family='"Liberation Serif", serif' fill="#000" stroke="#000" stroke-width="0.40">Maml2</text>
<text transform="translate(476.70 399.13) rotate(0.05) scale(0.25)" font-size="21.2" text-anchor="start" font-weight="bold" font-family='"Liberation Serif", serif' fill="#000" stroke="#000" stroke-width="0.40">Gm25558</text>
<text transform="translate(476.70 403.87) rotate(0.05) scale(0.25)" font-size="21.2" text-anchor="start" font-weight="bold" font-family='"Liberation Serif", serif' fill="#000" stroke="#000" stroke-width="0.40">Ddx10</text>
<text transform="translate(476.70 408.62) rotate(0.05) scale(0.25)" font-size="21.2" text-anchor="start" font-weight="bold" font-family='"Liberation Serif", serif' fill="#000" stroke="#000" stroke-width="0.40">Tmem229b</text>
<text transform="translate(476.70 413.36) rotate(0.05) scale(0.25)" font-size="21.2" text-anchor="start" font-weight="bold" font-family='"Liberation Serif", serif' fill="#000" stroke="#000" stroke-width="0.40">Pdgfd</text>
<text transform="translate(476.70 418.11) rotate(0.05) scale(0.25)" font-size="21.2" text-anchor="start" font-weight="bold" font-family='"Liberation Serif", serif' fill="#000" stroke="#000" stroke-width="0.40">Jrk3</text>
<text transform="translate(476.70 422.85) rotate(0.05) scale(0.25)" font-size="21.2" text-anchor="start" font-weight="bold" font-family='"Liberation Serif", serif' fill="#000" stroke="#000" stroke-width="0.40">Gm48833</text>
<text transform="translate(476.70 427.59) rotate(0.05) scale(0.25)" font-size="21.2" text-anchor="start" font-weight="bold" font-family='"Liberation Serif", serif' fill="#000" stroke="#000" stroke-width="0.40">Gm27232</text>
<text transform="translate(476.70 432.34) rotate(0.05) scale(0.25)" font-size="21.2" text-anchor="start" font-weight="bold" font-family='"Liberation Serif", serif' fill="#000" stroke="#000" stroke-width="0.40">Gm26545</text>
<text transform="translate(476.70 437.08) rotate(0.05) scale(0.25)" font-size="21.2" text-anchor="start" font-weight="bold" font-family='"Liberation Serif", serif' fill="#000" stroke="#000" stroke-width="0.40">Tpbg</text>
<text transform="translate(476.70 441.83) rotate(0.05) scale(0.25)" font-size="21.2" text-anchor="start" font-weight="bold" font-family='"Liberation Serif", serif' fill="#000" stroke="#000" stroke-width="0.40">Ppib</text>
<text transform="translate(476.70 446.57) rotate(0.05) scale(0.25)" font-size="21.2" text-anchor="start" font-weight="bold" font-family='"Liberation Serif", serif' fill="#000" stroke="#000" stroke-width="0.40">Phip</text>
<text transform="translate(476.70 451.31) rotate(0.05) scale(0.25)" font-size="21.2" text-anchor="start" font-weight="bold" font-family='"Liberation Serif", serif' fill="#000" stroke="#000" stroke-width="0.40">Gm48789</text>
<text transform="translate(476.70 456.06) rotate(0.05) scale(0.25)" font-size="21.2" text-anchor="start" font-weight="bold" font-family='"Liberation Serif", serif' fill="#000" stroke="#000" stroke-width="0.40">Gm47347</text>
<text transform="translate(476.70 460.80) rotate(0.05) scale(0.25)" font-size="21.2" text-anchor="start" font-weight="bold" font-family='"Liberation Serif", serif' fill="#000" stroke="#000" stroke-width="0.40">Gm26126</text>
<text transform="translate(476.70 465.55) rotate(0.05) scale(0.25)" font-size="21.2" text-anchor="start" font-weight="bold" font-family='"Liberation Serif", serif' fill="#000" stroke="#000" stroke-width="0.40">Gm24546</text>
<text transform="translate(476.70 470.29) rotate(0.05) scale(0.25)" font-size="21.2" text-anchor="start" font-weight="bold" font-family='"Liberation Serif", serif' fill="#000" stroke="#000" stroke-width="0.40">Dopey1</text>
<text transform="translate(476.70 475.03) rotate(0.05) scale(0.25)" font-size="21.2" text-anchor="start" font-weight="bold" font-family='"Liberation Serif", serif' fill="#000" stroke="#000" stroke-width="0.40">Cwf19l2</text>
<text transform="translate(476.70 479.78) rotate(0.05) scale(0.25)" font-size="21.2" text-anchor="start" font-weight="bold" font-family='"Liberation Serif", serif' fill="#000" stroke="#000" stroke-width="0.40">Ube2cbp</text>
<text transform="translate(476.70 484.52) rotate(0.05) scale(0.25)" font-size="21.2" text-anchor="start" font-weight="bold" font-family='"Liberation Serif", serif' fill="#000" stroke="#000" stroke-width="0.40">Taok1</text>
<text transform="translate(476.70 489.27) rotate(0.05) scale(0.25)" font-size="21.2" text-anchor="start" font-weight="bold" font-family='"Liberation Serif", serif' fill="#000" stroke="#000" stroke-width="0.40">Stag1</text>
<text transform="translate(476.70 494.01) rotate(0.05) scale(0.25)" font-size="21.2" text-anchor="start" font-weight="bold" font-family='"Liberation Serif", serif' fill="#000" stroke="#000" stroke-width="0.40">Gm47166</text>
<text transform="translate(476.70 498.75) rotate(0.05) scale(0.25)" font-size="21.2" text-anchor="start" font-weight="bold" font-family='"Liberation Serif", serif' fill="#000" stroke="#000" stroke-width="0.40">Gigyf2</text>
<text transform="translate(476.70 503.50) rotate(0.05) scale(0.25)" font-size="21.2" text-anchor="start" font-weight="bold" font-family='"Liberation Serif", serif' fill="#000" stroke="#000" stroke-width="0.40">Dnm3</text>
<text transform="translate(476.70 508.24) rotate(0.05) scale(0.25)" font-size="21.2" text-anchor="start" font-weight="bold" font-family='"Liberation Serif", serif' fill="#000" stroke="#000" stroke-width="0.40">Arih1</text>
<text transform="translate(476.70 512.99) rotate(0.05) scale(0.25)" font-size="21.2" text-anchor="start" font-weight="bold" font-family='"Liberation Serif", serif' fill="#000" stroke="#000" stroke-width="0.40">Slc22a14</text>
<text transform="translate(476.70 517.73) rotate(0.05) scale(0.25)" font-size="21.2" text-anchor="start" font-weight="bold" font-family='"Liberation Serif", serif' fill="#000" stroke="#000" stroke-width="0.40">Sesn3</text>
<text transform="translate(476.70 522.47) rotate(0.05) scale(0.25)" font-size="21.2" text-anchor="start" font-weight="bold" font-family='"Liberation Serif", serif' fill="#000" stroke="#000" stroke-width="0.40">Senp6</text>
<text transform="translate(476.70 527.22) rotate(0.05) scale(0.25)" font-size="21.2" text-anchor="start" font-weight="bold" font-family='"Liberation Serif", serif' fill="#000" stroke="#000" stroke-width="0.40">Rad51b</text>
<text transform="translate(476.70 531.96) rotate(0.05) scale(0.25)" font-size="21.2" text-anchor="start" font-weight="bold" font-family='"Liberation Serif", serif' fill="#000" stroke="#000" stroke-width="0.40">Prss35</text>
<text transform="translate(476.70 536.71) rotate(0.05) scale(0.25)" font-size="21.2" text-anchor="start" font-weight="bold" font-family='"Liberation Serif", serif' fill="#000" stroke="#000" stroke-width="0.40">Mpp6</text>
<text transform="translate(476.70 541.45) rotate(0.05) scale(0.25)" font-size="21.2" text-anchor="start" font-weight="bold" font-family='"Liberation Serif", serif' fill="#000" stroke="#000" stroke-width="0.40">Gphn</text>
<text transform="translate(476.70 546.19) rotate(0.05) scale(0.25)" font-size="21.2" text-anchor="start" font-weight="bold" font-family='"Liberation Serif", serif' fill="#000" stroke="#000" stroke-width="0.40">Gm5366</text>
<text transform="translate(476.70 550.94) rotate(0.05) scale(0.25)" font-size="21.2" text-anchor="start" font-weight="bold" font-family='"Liberation Serif", serif' fill="#000" stroke="#000" stroke-width="0.40">Gm48780</text>
<text transform="translate(476.70 555.68) rotate(0.05) scale(0.25)" font-size="21.2" text-anchor="start" font-weight="bold" font-family='"Liberation Serif", serif' fill="#000" stroke="#000" stroke-width="0.40">Gm48272</text>
<text transform="translate(476.70 560.43) rotate(0.05) scale(0.25)" font-size="21.2" text-anchor="start" font-weight="bold" font-family='"Liberation Serif", serif' fill="#000" stroke="#000" stroke-width="0.40">Gm27297</text>
<text transform="translate(476.70 565.17) rotate(0.05) scale(0.25)" font-size="21.2" text-anchor="start" font-weight="bold" font-family='"Liberation Serif", serif' fill="#000" stroke="#000" stroke-width="0.40">Gm19178</text>
<text transform="translate(476.70 569.91) rotate(0.05) scale(0.25)" font-size="21.2" text-anchor="start" font-weight="bold" font-family='"Liberation Serif", serif' fill="#000" stroke="#000" stroke-width="0.40">Gm18766</text>
<text transform="translate(476.70 574.66) rotate(0.05) scale(0.25)" font-size="21.2" text-anchor="start" font-weight="bold" font-family='"Liberation Serif", serif' fill="#000" stroke="#000" stroke-width="0.40">Gm17530</text>
<text transform="translate(476.70 579.40) rotate(0.05) scale(0.25)" font-size="21.2" text-anchor="start" font-weight="bold" font-family='"Liberation Serif", serif' fill="#000" stroke="#000" stroke-width="0.40">Gm17399</text>
<text transform="translate(476.70 584.15) rotate(0.05) scale(0.25)" font-size="21.2" text-anchor="start" font-weight="bold" font-family='"Liberation Serif", serif' fill="#000" stroke="#000" stroke-width="0.40">Gm17324</text>
<text transform="translate(476.70 588.89) rotate(0.05) scale(0.25)" font-size="21.2" text-anchor="start" font-weight="bold" font-family='"Liberation Serif", serif' fill="#000" stroke="#000" stroke-width="0.40">Gm10800</text>
<text transform="translate(476.70 593.63) rotate(0.05) scale(0.25)" font-size="21.2" text-anchor="start" font-weight="bold" font-family='"Liberation Serif", serif' fill="#000" stroke="#000" stroke-width="0.40">Fut8</text>
<text transform="translate(476.70 598.38) rotate(0.05) scale(0.25)" font-size="21.2" text-anchor="start" font-weight="bold" font-family='"Liberation Serif", serif' fill="#000" stroke="#000" stroke-width="0.40">Cntn5</text>
<text transform="translate(382.35 357.50) rotate(0.05) scale(0.25)" font-size="32.0" text-anchor="middle" font-weight="bold" font-family='"Liberation Serif", serif' fill="#000">TAPDANCE</text>
<text transform="translate(303.61 600.80) rotate(90) scale(0.25)" font-size="32.8" text-anchor="start" font-weight="bold" font-family='"Liberation Serif", serif' fill="#000">X10k</text>
<text transform="translate(341.23 600.80) rotate(90) scale(0.25)" font-size="32.8" text-anchor="start" font-weight="bold" font-family='"Liberation Serif", serif' fill="#000">X50K</text>
<text transform="translate(378.85 600.80) rotate(90) scale(0.25)" font-size="32.8" text-anchor="start" font-weight="bold" font-family='"Liberation Serif", serif' fill="#000">X150K</text>
<text transform="translate(416.47 600.80) rotate(90) scale(0.25)" font-size="32.8" text-anchor="start" font-weight="bold" font-family='"Liberation Serif", serif' fill="#000">X250K</text>
<text transform="translate(454.09 600.80) rotate(90) scale(0.25)" font-size="32.8" text-anchor="start" font-weight="bold" font-family='"Liberation Serif", serif' fill="#000">allreads</text>
<rect x="523.3" y="439.70" width="6" height="11.15" fill="#FFFFE5"/>
<rect x="523.3" y="428.60" width="6" height="11.15" fill="#FFF7BC"/>
<rect x="523.3" y="417.50" width="6" height="11.15" fill="#FEE391"/>
<rect x="523.3" y="406.40" width="6" height="11.15" fill="#FEC44F"/>
<rect x="523.3" y="395.30" width="6" height="11.15" fill="#FB9A30"/>
<rect x="523.3" y="384.20" width="6" height="11.15" fill="#EA752A"/>
<rect x="523.3" y="373.10" width="6" height="11.15" fill="#CB5328"/>
<rect x="523.3" y="362.00" width="6" height="11.15" fill="#8E2B1C"/>
<text transform="translate(531.60 363.30) rotate(0.05) scale(0.25)" font-size="16.4" text-anchor="start" font-weight="bold" font-family='"Liberation Serif", serif' fill="#000" stroke="#000" stroke-width="0.40">14</text>
<text transform="translate(531.60 376.00) rotate(0.05) scale(0.25)" font-size="16.4" text-anchor="start" font-weight="bold" font-family='"Liberation Serif", serif' fill="#000" stroke="#000" stroke-width="0.40">12</text>
<text transform="translate(531.60 388.70) rotate(0.05) scale(0.25)" font-size="16.4" text-anchor="start" font-weight="bold" font-family='"Liberation Serif", serif' fill="#000" stroke="#000" stroke-width="0.40">10</text>
<text transform="translate(531.60 401.40) rotate(0.05) scale(0.25)" font-size="16.4" text-anchor="start" font-weight="bold" font-family='"Liberation Serif", serif' fill="#000" stroke="#000" stroke-width="0.40">8</text>
<text transform="translate(531.60 414.00) rotate(0.05) scale(0.25)" font-size="16.4" text-anchor="start" font-weight="bold" font-family='"Liberation Serif", serif' fill="#000" stroke="#000" stroke-width="0.40">6</text>
<text transform="translate(531.60 426.70) rotate(0.05) scale(0.25)" font-size="16.4" text-anchor="start" font-weight="bold" font-family='"Liberation Serif", serif' fill="#000" stroke="#000" stroke-width="0.40">4</text>
<text transform="translate(531.60 439.40) rotate(0.05) scale(0.25)" font-size="16.4" text-anchor="start" font-weight="bold" font-family='"Liberation Serif", serif' fill="#000" stroke="#000" stroke-width="0.40">2</text>
<text transform="translate(531.60 452.10) rotate(0.05) scale(0.25)" font-size="16.4" text-anchor="start" font-weight="bold" font-family='"Liberation Serif", serif' fill="#000" stroke="#000" stroke-width="0.40">0</text>
<g stroke="#8f8f8f" stroke-opacity="0.9" stroke-width="0.4">
<rect x="561.30" y="362.40" width="38.82" height="4.75" fill="#FFF7BC"/>
<rect x="600.12" y="362.40" width="38.82" height="4.75" fill="#FEE391"/>
<rect x="638.94" y="362.40" width="38.82" height="4.75" fill="#EA752A"/>
<rect x="677.76" y="362.40" width="38.82" height="4.75" fill="#CB5328"/>
<rect x="716.58" y="362.40" width="38.82" height="4.75" fill="#8E2B1C"/>
<rect x="561.30" y="367.15" width="38.82" height="4.75" fill="#FEE391"/>
<rect x="600.12" y="367.15" width="38.82" height="4.75" fill="#FEE391"/>
<rect x="638.94" y="367.15" width="38.82" height="4.75" fill="#FEE391"/>
<rect x="677.76" y="367.15" width="38.82" height="4.75" fill="#FEC44F"/>
<rect x="716.58" y="367.15" width="38.82" height="4.75" fill="#FB9A30"/>
<rect x="561.30" y="371.90" width="38.82" height="4.75" fill="#FFFFE5"/>
<rect x="600.12" y="371.90" width="38.82" height="4.75" fill="#FFFFE5"/>
<rect x="638.94" y="371.90" width="38.82" height="4.75" fill="#FFFFE5"/>
<rect x="677.76" y="371.90" width="38.82" height="4.75" fill="#FFFFE5"/>
<rect x="716.58" y="371.90" width="38.82" height="4.75" fill="#FEC44F"/>
<rect x="561.30" y="376.66" width="38.82" height="4.75" fill="#FFFFE5"/>
<rect x="600.12" y="376.66" width="38.82" height="4.75" fill="#FFF7BC"/>
<rect x="638.94" y="376.66" width="38.82" height="4.75" fill="#FFF7BC"/>
<rect x="677.76" y="376.66" width="38.82" height="4.75" fill="#FFF7BC"/>
<rect x="716.58" y="376.66" width="38.82" height="4.75" fill="#FEC44F"/>
<rect x="561.30" y="381.41" width="38.82" height="4.75" fill="#FFFFE5"/>
<rect x="600.12" y="381.41" width="38.82" height="4.75" fill="#FFF7BC"/>
<rect x="638.94" y="381.41" width="38.82" height="4.75" fill="#FFF7BC"/>
<rect x="677.76" y="381.41" width="38.82" height="4.75" fill="#FFF7BC"/>
<rect x="716.58" y="381.41" width="38.82" height="4.75" fill="#FEC44F"/>
<rect x="561.30" y="386.16" width="38.82" height="4.75" fill="#FFFFE5"/>
<rect x="600.12" y="386.16" width="38.82" height="4.75" fill="#FFFFE5"/>
<rect x="638.94" y="386.16" width="38.82" height="4.75" fill="#FFFFE5"/>
<rect x="677.76" y="386.16" width="38.82" height="4.75" fill="#FFFFE5"/>
<rect x="716.58" y="386.16" width="38.82" height="4.75" fill="#FEE391"/>
<rect x="561.30" y="390.91" width="38.82" height="4.75" fill="#FFFFE5"/>
<rect x="600.12" y="390.91" width="38.82" height="4.75" fill="#FFFFE5"/>
<rect x="638.94" y="390.91" width="38.82" height="4.75" fill="#FFFFE5"/>
<rect x="677.76" y="390.91" width="38.82" height="4.75" fill="#FFFFE5"/>
<rect x="716.58" y="390.91" width="38.82" height="4.75" fill="#FEE391"/>
<rect x="561.30" y="395.66" width="38.82" height="4.75" fill="#FFFFE5"/>
<rect x="600.12" y="395.66" width="38.82" height="4.75" fill="#FFFFE5"/>
<rect x="638.94" y="395.66" width="38.82" height="4.75" fill="#FFFFE5"/>
<rect x="677.76" y="395.66" width="38.82" height="4.75" fill="#FFFFE5"/>
<rect x="716.58" y="395.66" width="38.82" height="4.75" fill="#FEE391"/>
<rect x="561.30" y="400.42" width="38.82" height="4.75" fill="#FFFFE5"/>
<rect x="600.12" y="400.42" width="38.82" height="4.75" fill="#FFFFE5"/>
<rect x="638.94" y="400.42" width="38.82" height="4.75" fill="#FFFFE5"/>
<rect x="677.76" y="400.42" width="38.82" height="4.75" fill="#FFFFE5"/>
<rect x="716.58" y="400.42" width="38.82" height="4.75" fill="#FEE391"/>
<rect x="561.30" y="405.17" width="38.82" height="4.75" fill="#FFFFE5"/>
<rect x="600.12" y="405.17" width="38.82" height="4.75" fill="#FFFFE5"/>
<rect x="638.94" y="405.17" width="38.82" height="4.75" fill="#FFFFE5"/>
<rect x="677.76" y="405.17" width="38.82" height="4.75" fill="#FFFFE5"/>
<rect x="716.58" y="405.17" width="38.82" height="4.75" fill="#FEE391"/>
<rect x="561.30" y="409.92" width="38.82" height="4.75" fill="#FFFFE5"/>
<rect x="600.12" y="409.92" width="38.82" height="4.75" fill="#FFFFE5"/>
<rect x="638.94" y="409.92" width="38.82" height="4.75" fill="#FFFFE5"/>
<rect x="677.76" y="409.92" width="38.82" height="4.75" fill="#FFFFE5"/>
<rect x="716.58" y="409.92" width="38.82" height="4.75" fill="#FEE391"/>
<rect x="561.30" y="414.67" width="38.82" height="4.75" fill="#FFFFE5"/>
<rect x="600.12" y="414.67" width="38.82" height="4.75" fill="#FFFFE5"/>
<rect x="638.94" y="414.67" width="38.82" height="4.75" fill="#FFFFE5"/>
<rect x="677.76" y="414.67" width="38.82" height="4.75" fill="#FFFFE5"/>
<rect x="716.58" y="414.67" width="38.82" height="4.75" fill="#FEE391"/>
<rect x="561.30" y="419.42" width="38.82" height="4.75" fill="#FFFFE5"/>
<rect x="600.12" y="419.42" width="38.82" height="4.75" fill="#FFFFE5"/>
<rect x="638.94" y="419.42" width="38.82" height="4.75" fill="#FFFFE5"/>
<rect x="677.76" y="419.42" width="38.82" height="4.75" fill="#FFFFE5"/>
<rect x="716.58" y="419.42" width="38.82" height="4.75" fill="#FEE391"/>
<rect x="561.30" y="424.18" width="38.82" height="4.75" fill="#FFFFE5"/>
<rect x="600.12" y="424.18" width="38.82" height="4.75" fill="#FFFFE5"/>
<rect x="638.94" y="424.18" width="38.82" height="4.75" fill="#FFFFE5"/>
<rect x="677.76" y="424.18" width="38.82" height="4.75" fill="#FFFFE5"/>
<rect x="716.58" y="424.18" width="38.82" height="4.75" fill="#FEE391"/>
<rect x="561.30" y="428.93" width="38.82" height="4.75" fill="#FFFFE5"/>
<rect x="600.12" y="428.93" width="38.82" height="4.75" fill="#FFFFE5"/>
<rect x="638.94" y="428.93" width="38.82" height="4.75" fill="#FFFFE5"/>
<rect x="677.76" y="428.93" width="38.82" height="4.75" fill="#FFFFE5"/>
<rect x="716.58" y="428.93" width="38.82" height="4.75" fill="#FFF7BC"/>
<rect x="561.30" y="433.68" width="38.82" height="4.75" fill="#FFFFE5"/>
<rect x="600.12" y="433.68" width="38.82" height="4.75" fill="#FFFFE5"/>
<rect x="638.94" y="433.68" width="38.82" height="4.75" fill="#FFFFE5"/>
<rect x="677.76" y="433.68" width="38.82" height="4.75" fill="#FFFFE5"/>
<rect x="716.58" y="433.68" width="38.82" height="4.75" fill="#FFF7BC"/>
<rect x="561.30" y="438.43" width="38.82" height="4.75" fill="#FFFFE5"/>
<rect x="600.12" y="438.43" width="38.82" height="4.75" fill="#FFFFE5"/>
<rect x="638.94" y="438.43" width="38.82" height="4.75" fill="#FFFFE5"/>
<rect x="677.76" y="438.43" width="38.82" height="4.75" fill="#FFFFE5"/>
<rect x="716.58" y="438.43" width="38.82" height="4.75" fill="#FFF7BC"/>
<rect x="561.30" y="443.18" width="38.82" height="4.75" fill="#FFFFE5"/>
<rect x="600.12" y="443.18" width="38.82" height="4.75" fill="#FFFFE5"/>
<rect x="638.94" y="443.18" width="38.82" height="4.75" fill="#FFF7BC"/>
<rect x="677.76" y="443.18" width="38.82" height="4.75" fill="#FFFFE5"/>
<rect x="716.58" y="443.18" width="38.82" height="4.75" fill="#FFF7BC"/>
<rect x="561.30" y="447.94" width="38.82" height="4.75" fill="#FFFFE5"/>
<rect x="600.12" y="447.94" width="38.82" height="4.75" fill="#FFFFE5"/>
<rect x="638.94" y="447.94" width="38.82" height="4.75" fill="#FFF7BC"/>
<rect x="677.76" y="447.94" width="38.82" height="4.75" fill="#FFFFE5"/>
<rect x="716.58" y="447.94" width="38.82" height="4.75" fill="#FFF7BC"/>
<rect x="561.30" y="452.69" width="38.82" height="4.75" fill="#FFFFE5"/>
<rect x="600.12" y="452.69" width="38.82" height="4.75" fill="#FFFFE5"/>
<rect x="638.94" y="452.69" width="38.82" height="4.75" fill="#FFFFE5"/>
<rect x="677.76" y="452.69" width="38.82" height="4.75" fill="#FFFFE5"/>
<rect x="716.58" y="452.69" width="38.82" height="4.75" fill="#FFF7BC"/>
<rect x="561.30" y="457.44" width="38.82" height="4.75" fill="#FFFFE5"/>
<rect x="600.12" y="457.44" width="38.82" height="4.75" fill="#FFFFE5"/>
<rect x="638.94" y="457.44" width="38.82" height="4.75" fill="#FFFFE5"/>
<rect x="677.76" y="457.44" width="38.82" height="4.75" fill="#FFF7BC"/>
<rect x="716.58" y="457.44" width="38.82" height="4.75" fill="#FFF7BC"/>
<rect x="561.30" y="462.19" width="38.82" height="4.75" fill="#FFFFE5"/>
<rect x="600.12" y="462.19" width="38.82" height="4.75" fill="#FFFFE5"/>
<rect x="638.94" y="462.19" width="38.82" height="4.75" fill="#FFFFE5"/>
<rect x="677.76" y="462.19" width="38.82" height="4.75" fill="#FFF7BC"/>
<rect x="716.58" y="462.19" width="38.82" height="4.75" fill="#FFF7BC"/>
<rect x="561.30" y="466.94" width="38.82" height="4.75" fill="#FFFFE5"/>
<rect x="600.12" y="466.94" width="38.82" height="4.75" fill="#FFFFE5"/>
<rect x="638.94" y="466.94" width="38.82" height="4.75" fill="#FFFFE5"/>
<rect x="677.76" y="466.94" width="38.82" height="4.75" fill="#FFF7BC"/>
<rect x="716.58" y="466.94" width="38.82" height="4.75" fill="#FFF7BC"/>
<rect x="561.30" y="471.70" width="38.82" height="4.75" fill="#FFFFE5"/>
<rect x="600.12" y="471.70" width="38.82" height="4.75" fill="#FFFFE5"/>
<rect x="638.94" y="471.70" width="38.82" height="4.75" fill="#FFFFE5"/>
<rect x="677.76" y="471.70" width="38.82" height="4.75" fill="#FFF7BC"/>
<rect x="716.58" y="471.70" width="38.82" height="4.75" fill="#FFF7BC"/>
<rect x="561.30" y="476.45" width="38.82" height="4.75" fill="#FFFFE5"/>
<rect x="600.12" y="476.45" width="38.82" height="4.75" fill="#FFFFE5"/>
<rect x="638.94" y="476.45" width="38.82" height="4.75" fill="#FFFFE5"/>
<rect x="677.76" y="476.45" width="38.82" height="4.75" fill="#FFF7BC"/>
<rect x="716.58" y="476.45" width="38.82" height="4.75" fill="#FFF7BC"/>
<rect x="561.30" y="481.20" width="38.82" height="4.75" fill="#FFFFE5"/>
<rect x="600.12" y="481.20" width="38.82" height="4.75" fill="#FFFFE5"/>
<rect x="638.94" y="481.20" width="38.82" height="4.75" fill="#FFFFE5"/>
<rect x="677.76" y="481.20" width="38.82" height="4.75" fill="#FFF7BC"/>
<rect x="716.58" y="481.20" width="38.82" height="4.75" fill="#FFF7BC"/>
<rect x="561.30" y="485.95" width="38.82" height="4.75" fill="#FFFFE5"/>
<rect x="600.12" y="485.95" width="38.82" height="4.75" fill="#FFFFE5"/>
<rect x="638.94" y="485.95" width="38.82" height="4.75" fill="#FFFFE5"/>
<rect x="677.76" y="485.95" width="38.82" height="4.75" fill="#FFFFE5"/>
<rect x="716.58" y="485.95" width="38.82" height="4.75" fill="#FFF7BC"/>
<rect x="561.30" y="490.70" width="38.82" height="4.75" fill="#FFFFE5"/>
<rect x="600.12" y="490.70" width="38.82" height="4.75" fill="#FFFFE5"/>
<rect x="638.94" y="490.70" width="38.82" height="4.75" fill="#FFFFE5"/>
<rect x="677.76" y="490.70" width="38.82" height="4.75" fill="#FFFFE5"/>
<rect x="716.58" y="490.70" width="38.82" height="4.75" fill="#FFF7BC"/>
<rect x="561.30" y="495.46" width="38.82" height="4.75" fill="#FFFFE5"/>
<rect x="600.12" y="495.46" width="38.82" height="4.75" fill="#FFFFE5"/>
<rect x="638.94" y="495.46" width="38.82" height="4.75" fill="#FFFFE5"/>
<rect x="677.76" y="495.46" width="38.82" height="4.75" fill="#FFF7BC"/>
<rect x="716.58" y="495.46" width="38.82" height="4.75" fill="#FFF7BC"/>
<rect x="561.30" y="500.21" width="38.82" height="4.75" fill="#FFFFE5"/>
<rect x="600.12" y="500.21" width="38.82" height="4.75" fill="#FFFFE5"/>
<rect x="638.94" y="500.21" width="38.82" height="4.75" fill="#FFFFE5"/>
<rect x="677.76" y="500.21" width="38.82" height="4.75" fill="#FFF7BC"/>
<rect x="716.58" y="500.21" width="38.82" height="4.75" fill="#FFF7BC"/>
<rect x="561.30" y="504.96" width="38.82" height="4.75" fill="#FFFFE5"/>
<rect x="600.12" y="504.96" width="38.82" height="4.75" fill="#FFFFE5"/>
<rect x="638.94" y="504.96" width="38.82" height="4.75" fill="#FFFFE5"/>
<rect x="677.76" y="504.96" width="38.82" height="4.75" fill="#FFFFE5"/>
<rect x="716.58" y="504.96" width="38.82" height="4.75" fill="#FFF7BC"/>
<rect x="561.30" y="509.71" width="38.82" height="4.75" fill="#FFFFE5"/>
<rect x="600.12" y="509.71" width="38.82" height="4.75" fill="#FFFFE5"/>
<rect x="638.94" y="509.71" width="38.82" height="4.75" fill="#FFFFE5"/>
<rect x="677.76" y="509.71" width="38.82" height="4.75" fill="#FFFFE5"/>
<rect x="716.58" y="509.71" width="38.82" height="4.75" fill="#FFFFE5"/>
<rect x="561.30" y="514.46" width="38.82" height="4.75" fill="#FFFFE5"/>
<rect x="600.12" y="514.46" width="38.82" height="4.75" fill="#FFFFE5"/>
<rect x="638.94" y="514.46" width="38.82" height="4.75" fill="#FFFFE5"/>
<rect x="677.76" y="514.46" width="38.82" height="4.75" fill="#FFFFE5"/>
<rect x="716.58" y="514.46" width="38.82" height="4.75" fill="#FFFFE5"/>
<rect x="561.30" y="519.22" width="38.82" height="4.75" fill="#FFFFE5"/>
<rect x="600.12" y="519.22" width="38.82" height="4.75" fill="#FFFFE5"/>
<rect x="638.94" y="519.22" width="38.82" height="4.75" fill="#FFFFE5"/>
<rect x="677.76" y="519.22" width="38.82" height="4.75" fill="#FFFFE5"/>
<rect x="716.58" y="519.22" width="38.82" height="4.75" fill="#FFFFE5"/>
<rect x="561.30" y="523.97" width="38.82" height="4.75" fill="#FFFFE5"/>
<rect x="600.12" y="523.97" width="38.82" height="4.75" fill="#FFFFE5"/>
<rect x="638.94" y="523.97" width="38.82" height="4.75" fill="#FFFFE5"/>
<rect x="677.76" y="523.97" width="38.82" height="4.75" fill="#FFFFE5"/>
<rect x="716.58" y="523.97" width="38.82" height="4.75" fill="#FFFFE5"/>
<rect x="561.30" y="528.72" width="38.82" height="4.75" fill="#FFFFE5"/>
<rect x="600.12" y="528.72" width="38.82" height="4.75" fill="#FFFFE5"/>
<rect x="638.94" y="528.72" width="38.82" height="4.75" fill="#FFFFE5"/>
<rect x="677.76" y="528.72" width="38.82" height="4.75" fill="#FFFFE5"/>
<rect x="716.58" y="528.72" width="38.82" height="4.75" fill="#FFFFE5"/>
<rect x="561.30" y="533.47" width="38.82" height="4.75" fill="#FFFFE5"/>
<rect x="600.12" y="533.47" width="38.82" height="4.75" fill="#FFFFE5"/>
<rect x="638.94" y="533.47" width="38.82" height="4.75" fill="#FFFFE5"/>
<rect x="677.76" y="533.47" width="38.82" height="4.75" fill="#FFFFE5"/>
<rect x="716.58" y="533.47" width="38.82" height="4.75" fill="#FFFFE5"/>
<rect x="561.30" y="538.22" width="38.82" height="4.75" fill="#FFFFE5"/>
<rect x="600.12" y="538.22" width="38.82" height="4.75" fill="#FFFFE5"/>
<rect x="638.94" y="538.22" width="38.82" height="4.75" fill="#FFFFE5"/>
<rect x="677.76" y="538.22" width="38.82" height="4.75" fill="#FFFFE5"/>
<rect x="716.58" y="538.22" width="38.82" height="4.75" fill="#FFFFE5"/>
<rect x="561.30" y="542.98" width="38.82" height="4.75" fill="#FFFFE5"/>
<rect x="600.12" y="542.98" width="38.82" height="4.75" fill="#FFFFE5"/>
<rect x="638.94" y="542.98" width="38.82" height="4.75" fill="#FFF7BC"/>
<rect x="677.76" y="542.98" width="38.82" height="4.75" fill="#FFF7BC"/>
<rect x="716.58" y="542.98" width="38.82" height="4.75" fill="#FFFFE5"/>
<rect x="561.30" y="547.73" width="38.82" height="4.75" fill="#FFFFE5"/>
<rect x="600.12" y="547.73" width="38.82" height="4.75" fill="#FFFFE5"/>
<rect x="638.94" y="547.73" width="38.82" height="4.75" fill="#FFFFE5"/>
<rect x="677.76" y="547.73" width="38.82" height="4.75" fill="#FFFFE5"/>
<rect x="716.58" y="547.73" width="38.82" height="4.75" fill="#FFFFE5"/>
<rect x="561.30" y="552.48" width="38.82" height="4.75" fill="#FFFFE5"/>
<rect x="600.12" y="552.48" width="38.82" height="4.75" fill="#FFF7BC"/>
<rect x="638.94" y="552.48" width="38.82" height="4.75" fill="#FEE391"/>
<rect x="677.76" y="552.48" width="38.82" height="4.75" fill="#FFFFE5"/>
<rect x="716.58" y="552.48" width="38.82" height="4.75" fill="#FFFFE5"/>
<rect x="561.30" y="557.23" width="38.82" height="4.75" fill="#FFFFE5"/>
<rect x="600.12" y="557.23" width="38.82" height="4.75" fill="#FFFFE5"/>
<rect x="638.94" y="557.23" width="38.82" height="4.75" fill="#FFFFE5"/>
<rect x="677.76" y="557.23" width="38.82" height="4.75" fill="#FFF7BC"/>
<rect x="716.58" y="557.23" width="38.82" height="4.75" fill="#FFFFE5"/>
<rect x="561.30" y="561.98" width="38.82" height="4.75" fill="#FFFFE5"/>
<rect x="600.12" y="561.98" width="38.82" height="4.75" fill="#FFFFE5"/>
<rect x="638.94" y="561.98" width="38.82" height="4.75" fill="#FFFFE5"/>
<rect x="677.76" y="561.98" width="38.82" height="4.75" fill="#FFFFE5"/>
<rect x="716.58" y="561.98" width="38.82" height="4.75" fill="#FFFFE5"/>
<rect x="561.30" y="566.74" width="38.82" height="4.75" fill="#FFFFE5"/>
<rect x="600.12" y="566.74" width="38.82" height="4.75" fill="#FFFFE5"/>
<rect x="638.94" y="566.74" width="38.82" height="4.75" fill="#FFFFE5"/>
<rect x="677.76" y="566.74" width="38.82" height="4.75" fill="#FFF7BC"/>
<rect x="716.58" y="566.74" width="38.82" height="4.75" fill="#FFFFE5"/>
<rect x="561.30" y="571.49" width="38.82" height="4.75" fill="#FFFFE5"/>
<rect x="600.12" y="571.49" width="38.82" height="4.75" fill="#FFFFE5"/>
<rect x="638.94" y="571.49" width="38.82" height="4.75" fill="#FFFFE5"/>
<rect x="677.76" y="571.49" width="38.82" height="4.75" fill="#FFF7BC"/>
<rect x="716.58" y="571.49" width="38.82" height="4.75" fill="#FFFFE5"/>
<rect x="561.30" y="576.24" width="38.82" height="4.75" fill="#FEE391"/>
<rect x="600.12" y="576.24" width="38.82" height="4.75" fill="#FEE391"/>
<rect x="638.94" y="576.24" width="38.82" height="4.75" fill="#FEE391"/>
<rect x="677.76" y="576.24" width="38.82" height="4.75" fill="#FFFFE5"/>
<rect x="716.58" y="576.24" width="38.82" height="4.75" fill="#FFFFE5"/>
<rect x="561.30" y="580.99" width="38.82" height="4.75" fill="#FFFFE5"/>
<rect x="600.12" y="580.99" width="38.82" height="4.75" fill="#FFF7BC"/>
<rect x="638.94" y="580.99" width="38.82" height="4.75" fill="#FFF7BC"/>
<rect x="677.76" y="580.99" width="38.82" height="4.75" fill="#FFFFE5"/>
<rect x="716.58" y="580.99" width="38.82" height="4.75" fill="#FFFFE5"/>
<rect x="561.30" y="585.74" width="38.82" height="4.75" fill="#FFFFE5"/>
<rect x="600.12" y="585.74" width="38.82" height="4.75" fill="#FFFFE5"/>
<rect x="638.94" y="585.74" width="38.82" height="4.75" fill="#FFFFE5"/>
<rect x="677.76" y="585.74" width="38.82" height="4.75" fill="#FFFFE5"/>
<rect x="716.58" y="585.74" width="38.82" height="4.75" fill="#FFFFE5"/>
<rect x="561.30" y="590.50" width="38.82" height="4.75" fill="#FFFFE5"/>
<rect x="600.12" y="590.50" width="38.82" height="4.75" fill="#FFFFE5"/>
<rect x="638.94" y="590.50" width="38.82" height="4.75" fill="#FFF7BC"/>
<rect x="677.76" y="590.50" width="38.82" height="4.75" fill="#FFFFE5"/>
<rect x="716.58" y="590.50" width="38.82" height="4.75" fill="#FFFFE5"/>
<rect x="561.30" y="595.25" width="38.82" height="4.75" fill="#FFFFE5"/>
<rect x="600.12" y="595.25" width="38.82" height="4.75" fill="#FFFFE5"/>
<rect x="638.94" y="595.25" width="38.82" height="4.75" fill="#FFF7BC"/>
<rect x="677.76" y="595.25" width="38.82" height="4.75" fill="#FFFFE5"/>
<rect x="716.58" y="595.25" width="38.82" height="4.75" fill="#FFFFE5"/>
</g>
<text transform="translate(757.70 366.53) rotate(0.05) scale(0.25)" font-size="21.2" text-anchor="start" font-weight="bold" font-family='"Liberation Serif", serif' fill="#000" stroke="#000" stroke-width="0.40">Nxpe5</text>
<text transform="translate(757.70 371.28) rotate(0.05) scale(0.25)" font-size="21.2" text-anchor="start" font-weight="bold" font-family='"Liberation Serif", serif' fill="#000" stroke="#000" stroke-width="0.40">Hras</text>
<text transform="translate(757.70 376.03) rotate(0.05) scale(0.25)" font-size="21.2" text-anchor="start" font-weight="bold" font-family='"Liberation Serif", serif' fill="#000" stroke="#000" stroke-width="0.40">Jarid2</text>
<text transform="translate(757.70 380.78) rotate(0.05) scale(0.25)" font-size="21.2" text-anchor="start" font-weight="bold" font-family='"Liberation Serif", serif' fill="#000" stroke="#000" stroke-width="0.40">Tgfbr2</text>
<text transform="translate(757.70 385.53) rotate(0.05) scale(0.25)" font-size="21.2" text-anchor="start" font-weight="bold" font-family='"Liberation Serif", serif' fill="#000" stroke="#000" stroke-width="0.40">Cul5</text>
<text transform="translate(757.70 390.29) rotate(0.05) scale(0.25)" font-size="21.2" text-anchor="start" font-weight="bold" font-family='"Liberation Serif", serif' fill="#000" stroke="#000" stroke-width="0.40">Gm4220</text>
<text transform="translate(757.70 395.04) rotate(0.05) scale(0.25)" font-size="21.2" text-anchor="start" font-weight="bold" font-family='"Liberation Serif", serif' fill="#000" stroke="#000" stroke-width="0.40">Gm4579</text>
<text transform="translate(757.70 399.79) rotate(0.05) scale(0.25)" font-size="21.2" text-anchor="start" font-weight="bold" font-family='"Liberation Serif", serif' fill="#000" stroke="#000" stroke-width="0.40">Gm8687</text>
<text transform="translate(757.70 404.54) rotate(0.05) scale(0.25)" font-size="21.2" text-anchor="start" font-weight="bold" font-family='"Liberation Serif", serif' fill="#000" stroke="#000" stroke-width="0.40">Gm4179</text>
<text transform="translate(757.70 409.29) rotate(0.05) scale(0.25)" font-size="21.2" text-anchor="start" font-weight="bold" font-family='"Liberation Serif", serif' fill="#000" stroke="#000" stroke-width="0.40">Gm4551</text>
<text transform="translate(757.70 414.05) rotate(0.05) scale(0.25)" font-size="21.2" text-anchor="start" font-weight="bold" font-family='"Liberation Serif", serif' fill="#000" stroke="#000" stroke-width="0.40">Gm4172</text>
<text transform="translate(757.70 418.80) rotate(0.05) scale(0.25)" font-size="21.2" text-anchor="start" font-weight="bold" font-family='"Liberation Serif", serif' fill="#000" stroke="#000" stroke-width="0.40">Gm4542</text>
<text transform="translate(757.70 423.55) rotate(0.05) scale(0.25)" font-size="21.2" text-anchor="start" font-weight="bold" font-family='"Liberation Serif", serif' fill="#000" stroke="#000" stroke-width="0.40">Gm6559</text>
<text transform="translate(757.70 428.30) rotate(0.05) scale(0.25)" font-size="21.2" text-anchor="start" font-weight="bold" font-family='"Liberation Serif", serif' fill="#000" stroke="#000" stroke-width="0.40">Gm4519</text>
<text transform="translate(757.70 433.05) rotate(0.05) scale(0.25)" font-size="21.2" text-anchor="start" font-weight="bold" font-family='"Liberation Serif", serif' fill="#000" stroke="#000" stroke-width="0.40">Gm8716</text>
<text transform="translate(757.70 437.81) rotate(0.05) scale(0.25)" font-size="21.2" text-anchor="start" font-weight="bold" font-family='"Liberation Serif", serif' fill="#000" stroke="#000" stroke-width="0.40">Gm8611</text>
<text transform="translate(757.70 442.56) rotate(0.05) scale(0.25)" font-size="21.2" text-anchor="start" font-weight="bold" font-family='"Liberation Serif", serif' fill="#000" stroke="#000" stroke-width="0.40">Ppp2r2a</text>
<text transform="translate(757.70 447.31) rotate(0.05) scale(0.25)" font-size="21.2" text-anchor="start" font-weight="bold" font-family='"Liberation Serif", serif' fill="#000" stroke="#000" stroke-width="0.40">Jup</text>
<text transform="translate(757.70 452.06) rotate(0.05) scale(0.25)" font-size="21.2" text-anchor="start" font-weight="bold" font-family='"Liberation Serif", serif' fill="#000" stroke="#000" stroke-width="0.40">Erbb2</text>
<text transform="translate(757.70 456.81) rotate(0.05) scale(0.25)" font-size="21.2" text-anchor="start" font-weight="bold" font-family='"Liberation Serif", serif' fill="#000" stroke="#000" stroke-width="0.40">Derl3</text>
<text transform="translate(757.70 461.57) rotate(0.05) scale(0.25)" font-size="21.2" text-anchor="start" font-weight="bold" font-family='"Liberation Serif", serif' fill="#000" stroke="#000" stroke-width="0.40">Shc4</text>
<text transform="translate(757.70 466.32) rotate(0.05) scale(0.25)" font-size="21.2" text-anchor="start" font-weight="bold" font-family='"Liberation Serif", serif' fill="#000" stroke="#000" stroke-width="0.40">Arg2</text>
<text transform="translate(757.70 471.07) rotate(0.05) scale(0.25)" font-size="21.2" text-anchor="start" font-weight="bold" font-family='"Liberation Serif", serif' fill="#000" stroke="#000" stroke-width="0.40">Vti1b</text>
<text transform="translate(757.70 475.82) rotate(0.05) scale(0.25)" font-size="21.2" text-anchor="start" font-weight="bold" font-family='"Liberation Serif", serif' fill="#000" stroke="#000" stroke-width="0.40">Smek1</text>
<text transform="translate(757.70 480.57) rotate(0.05) scale(0.25)" font-size="21.2" text-anchor="start" font-weight="bold" font-family='"Liberation Serif", serif' fill="#000" stroke="#000" stroke-width="0.40">Notch1</text>
<text transform="translate(757.70 485.33) rotate(0.05) scale(0.25)" font-size="21.2" text-anchor="start" font-weight="bold" font-family='"Liberation Serif", serif' fill="#000" stroke="#000" stroke-width="0.40">Larp1</text>
<text transform="translate(757.70 490.08) rotate(0.05) scale(0.25)" font-size="21.2" text-anchor="start" font-weight="bold" font-family='"Liberation Serif", serif' fill="#000" stroke="#000" stroke-width="0.40">E4f1</text>
<text transform="translate(757.70 494.83) rotate(0.05) scale(0.25)" font-size="21.2" text-anchor="start" font-weight="bold" font-family='"Liberation Serif", serif' fill="#000" stroke="#000" stroke-width="0.40">Amotl1</text>
<text transform="translate(757.70 499.58) rotate(0.05) scale(0.25)" font-size="21.2" text-anchor="start" font-weight="bold" font-family='"Liberation Serif", serif' fill="#000" stroke="#000" stroke-width="0.40">Lbp</text>
<text transform="translate(757.70 504.33) rotate(0.05) scale(0.25)" font-size="21.2" text-anchor="start" font-weight="bold" font-family='"Liberation Serif", serif' fill="#000" stroke="#000" stroke-width="0.40">Carm1</text>
<text transform="translate(757.70 509.09) rotate(0.05) scale(0.25)" font-size="21.2" text-anchor="start" font-weight="bold" font-family='"Liberation Serif", serif' fill="#000" stroke="#000" stroke-width="0.40">4930515B02Rik</text>
<text transform="translate(757.70 513.84) rotate(0.05) scale(0.25)" font-size="21.2" text-anchor="start" font-weight="bold" font-family='"Liberation Serif", serif' fill="#000" stroke="#000" stroke-width="0.40">Tnpo2</text>
<text transform="translate(757.70 518.59) rotate(0.05) scale(0.25)" font-size="21.2" text-anchor="start" font-weight="bold" font-family='"Liberation Serif", serif' fill="#000" stroke="#000" stroke-width="0.40">Speer8-ps1</text>
<text transform="translate(757.70 523.34) rotate(0.05) scale(0.25)" font-size="21.2" text-anchor="start" font-weight="bold" font-family='"Liberation Serif", serif' fill="#000" stroke="#000" stroke-width="0.40">Plek2</text>
<text transform="translate(757.70 528.09) rotate(0.05) scale(0.25)" font-size="21.2" text-anchor="start" font-weight="bold" font-family='"Liberation Serif", serif' fill="#000" stroke="#000" stroke-width="0.40">Mrgpra2b</text>
<text transform="translate(757.70 532.85) rotate(0.05) scale(0.25)" font-size="21.2" text-anchor="start" font-weight="bold" font-family='"Liberation Serif", serif' fill="#000" stroke="#000" stroke-width="0.40">Fam76a</text>
<text transform="translate(757.70 537.60) rotate(0.05) scale(0.25)" font-size="21.2" text-anchor="start" font-weight="bold" font-family='"Liberation Serif", serif' fill="#000" stroke="#000" stroke-width="0.40">Arid3a</text>
<text transform="translate(757.70 542.35) rotate(0.05) scale(0.25)" font-size="21.2" text-anchor="start" font-weight="bold" font-family='"Liberation Serif", serif' fill="#000" stroke="#000" stroke-width="0.40">4930468A15Rik</text>
<text transform="translate(757.70 547.10) rotate(0.05) scale(0.25)" font-size="21.2" text-anchor="start" font-weight="bold" font-family='"Liberation Serif", serif' fill="#000" stroke="#000" stroke-width="0.40">Zfyve26</text>
<text transform="translate(757.70 551.85) rotate(0.05) scale(0.25)" font-size="21.2" text-anchor="start" font-weight="bold" font-family='"Liberation Serif", serif' fill="#000" stroke="#000" stroke-width="0.40">Vps26b</text>
<text transform="translate(757.70 556.61) rotate(0.05) scale(0.25)" font-size="21.2" text-anchor="start" font-weight="bold" font-family='"Liberation Serif", serif' fill="#000" stroke="#000" stroke-width="0.40">Ube2cbp</text>
<text transform="translate(757.70 561.36) rotate(0.05) scale(0.25)" font-size="21.2" text-anchor="start" font-weight="bold" font-family='"Liberation Serif", serif' fill="#000" stroke="#000" stroke-width="0.40">Tmem229b</text>
<text transform="translate(757.70 566.11) rotate(0.05) scale(0.25)" font-size="21.2" text-anchor="start" font-weight="bold" font-family='"Liberation Serif", serif' fill="#000" stroke="#000" stroke-width="0.40">Pvrl1</text>
<text transform="translate(757.70 570.86) rotate(0.05) scale(0.25)" font-size="21.2" text-anchor="start" font-weight="bold" font-family='"Liberation Serif", serif' fill="#000" stroke="#000" stroke-width="0.40">Plekhh1</text>
<text transform="translate(757.70 575.61) rotate(0.05) scale(0.25)" font-size="21.2" text-anchor="start" font-weight="bold" font-family='"Liberation Serif", serif' fill="#000" stroke="#000" stroke-width="0.40">Map2</text>
<text transform="translate(757.70 580.37) rotate(0.05) scale(0.25)" font-size="21.2" text-anchor="start" font-weight="bold" font-family='"Liberation Serif", serif' fill="#000" stroke="#000" stroke-width="0.40">Lrrc56</text>
<text transform="translate(757.70 585.12) rotate(0.05) scale(0.25)" font-size="21.2" text-anchor="start" font-weight="bold" font-family='"Liberation Serif", serif' fill="#000" stroke="#000" stroke-width="0.40">Kidins220</text>
<text transform="translate(757.70 589.87) rotate(0.05) scale(0.25)" font-size="21.2" text-anchor="start" font-weight="bold" font-family='"Liberation Serif", serif' fill="#000" stroke="#000" stroke-width="0.40">Fgd5</text>
<text transform="translate(757.70 594.62) rotate(0.05) scale(0.25)" font-size="21.2" text-anchor="start" font-weight="bold" font-family='"Liberation Serif", serif' fill="#000" stroke="#000" stroke-width="0.40">Dis3l</text>
<text transform="translate(757.70 599.37) rotate(0.05) scale(0.25)" font-size="21.2" text-anchor="start" font-weight="bold" font-family='"Liberation Serif", serif' fill="#000" stroke="#000" stroke-width="0.40">Dera</text>
<text transform="translate(659.05 358.10) rotate(0.05) scale(0.25)" font-size="33.6" text-anchor="middle" font-weight="bold" font-family='"Liberation Serif", serif' fill="#000">SB Driver</text>
<text transform="translate(578.61 601.80) rotate(90) scale(0.25)" font-size="32.8" text-anchor="start" font-weight="bold" font-family='"Liberation Serif", serif' fill="#000">X10K</text>
<text transform="translate(617.43 601.80) rotate(90) scale(0.25)" font-size="32.8" text-anchor="start" font-weight="bold" font-family='"Liberation Serif", serif' fill="#000">X50k</text>
<text transform="translate(656.25 601.80) rotate(90) scale(0.25)" font-size="32.8" text-anchor="start" font-weight="bold" font-family='"Liberation Serif", serif' fill="#000">X150k</text>
<text transform="translate(695.07 601.80) rotate(90) scale(0.25)" font-size="32.8" text-anchor="start" font-weight="bold" font-family='"Liberation Serif", serif' fill="#000">X250k</text>
<text transform="translate(733.89 601.80) rotate(90) scale(0.25)" font-size="32.8" text-anchor="start" font-weight="bold" font-family='"Liberation Serif", serif' fill="#000">allreads</text>
<rect x="805.2" y="441.68" width="6" height="11.38" fill="#FFFFE5"/>
<rect x="805.2" y="430.35" width="6" height="11.38" fill="#FFF7BC"/>
<rect x="805.2" y="419.02" width="6" height="11.38" fill="#FEE391"/>
<rect x="805.2" y="407.70" width="6" height="11.38" fill="#FEC44F"/>
<rect x="805.2" y="396.38" width="6" height="11.38" fill="#FB9A30"/>
<rect x="805.2" y="385.05" width="6" height="11.38" fill="#EA752A"/>
<rect x="805.2" y="373.72" width="6" height="11.38" fill="#CB5328"/>
<rect x="805.2" y="362.40" width="6" height="11.38" fill="#8E2B1C"/>
<text transform="translate(813.50 373.80) rotate(0.05) scale(0.25)" font-size="16.4" text-anchor="start" font-weight="bold" font-family='"Liberation Serif", serif' fill="#000" stroke="#000" stroke-width="0.40">25</text>
<text transform="translate(813.50 389.90) rotate(0.05) scale(0.25)" font-size="16.4" text-anchor="start" font-weight="bold" font-family='"Liberation Serif", serif' fill="#000" stroke="#000" stroke-width="0.40">20</text>
<text transform="translate(813.50 406.00) rotate(0.05) scale(0.25)" font-size="16.4" text-anchor="start" font-weight="bold" font-family='"Liberation Serif", serif' fill="#000" stroke="#000" stroke-width="0.40">15</text>
<text transform="translate(813.50 422.20) rotate(0.05) scale(0.25)" font-size="16.4" text-anchor="start" font-weight="bold" font-family='"Liberation Serif", serif' fill="#000" stroke="#000" stroke-width="0.40">10</text>
<text transform="translate(813.50 438.30) rotate(0.05) scale(0.25)" font-size="16.4" text-anchor="start" font-weight="bold" font-family='"Liberation Serif", serif' fill="#000" stroke="#000" stroke-width="0.40">5</text>
<text transform="translate(813.50 454.40) rotate(0.05) scale(0.25)" font-size="16.4" text-anchor="start" font-weight="bold" font-family='"Liberation Serif", serif' fill="#000" stroke="#000" stroke-width="0.40">0</text>
</svg>
</body></html>
